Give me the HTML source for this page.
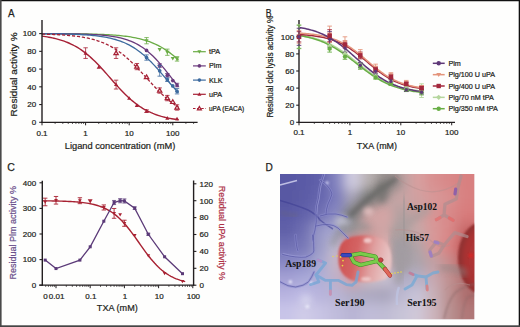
<!DOCTYPE html>
<html><head><meta charset="utf-8"><title>Figure</title>
<style>
html,body{margin:0;padding:0;background:#fff;width:520px;height:327px;overflow:hidden}
svg{display:block}
svg{font-family:"Liberation Sans",sans-serif}
</style></head><body>
<svg width="520" height="327" viewBox="0 0 520 327">
<rect x="0" y="0" width="520" height="327" fill="#fefefd"/>
<text x="7.9" y="16.9" font-size="11" text-anchor="start" fill="#231f20" stroke="#231f20" stroke-width="0.25" textLength="6.6" lengthAdjust="spacingAndGlyphs" >A</text>
<path d="M42 33.64 L43.71 33.65 L45.41 33.65 L47.12 33.66 L48.82 33.66 L50.53 33.67 L52.24 33.67 L53.94 33.68 L55.65 33.68 L57.35 33.69 L59.06 33.7 L60.77 33.71 L62.47 33.72 L64.18 33.73 L65.88 33.74 L67.59 33.75 L69.3 33.77 L71 33.78 L72.71 33.8 L74.41 33.81 L76.12 33.83 L77.83 33.85 L79.53 33.88 L81.24 33.9 L82.94 33.93 L84.65 33.96 L86.36 33.99 L88.06 34.02 L89.77 34.06 L91.47 34.1 L93.18 34.14 L94.89 34.19 L96.59 34.24 L98.3 34.3 L100.01 34.36 L101.71 34.43 L103.42 34.5 L105.12 34.58 L106.83 34.66 L108.54 34.75 L110.24 34.85 L111.95 34.96 L113.65 35.08 L115.36 35.21 L117.07 35.35 L118.77 35.5 L120.48 35.66 L122.18 35.84 L123.89 36.04 L125.6 36.24 L127.3 36.47 L129.01 36.72 L130.71 36.98 L132.42 37.27 L134.13 37.58 L135.83 37.91 L137.54 38.27 L139.24 38.66 L140.95 39.08 L142.66 39.53 L144.36 40.02 L146.07 40.54 L147.77 41.1 L149.48 41.71 L151.19 42.35 L152.89 43.04 L154.6 43.78 L156.3 44.57 L158.01 45.41 L159.72 46.3 L161.42 47.25 L163.13 48.26 L164.83 49.33 L166.54 50.45 L168.25 51.64 L169.95 52.89 L171.66 54.2 L173.36 55.57 L175.07 57 L176.78 58.48 L178.48 60.03" fill="none" stroke="#6aac45" stroke-width="1.3" />
<path d="M42 33.65 L43.71 33.65 L45.41 33.66 L47.12 33.66 L48.82 33.67 L50.53 33.68 L52.24 33.69 L53.94 33.7 L55.65 33.71 L57.35 33.72 L59.06 33.73 L60.77 33.74 L62.47 33.76 L64.18 33.77 L65.88 33.79 L67.59 33.81 L69.3 33.83 L71 33.86 L72.71 33.88 L74.41 33.91 L76.12 33.95 L77.83 33.98 L79.53 34.02 L81.24 34.07 L82.94 34.11 L84.65 34.17 L86.36 34.23 L88.06 34.29 L89.77 34.36 L91.47 34.44 L93.18 34.53 L94.89 34.62 L96.59 34.73 L98.3 34.84 L100.01 34.97 L101.71 35.11 L103.42 35.27 L105.12 35.44 L106.83 35.62 L108.54 35.83 L110.24 36.05 L111.95 36.3 L113.65 36.58 L115.36 36.87 L117.07 37.2 L118.77 37.56 L120.48 37.95 L122.18 38.38 L123.89 38.85 L125.6 39.36 L127.3 39.92 L129.01 40.52 L130.71 41.18 L132.42 41.9 L134.13 42.68 L135.83 43.52 L137.54 44.42 L139.24 45.4 L140.95 46.45 L142.66 47.58 L144.36 48.79 L146.07 50.08 L147.77 51.45 L149.48 52.9 L151.19 54.44 L152.89 56.06 L154.6 57.77 L156.3 59.55 L158.01 61.4 L159.72 63.33 L161.42 65.32 L163.13 67.36 L164.83 69.46 L166.54 71.6 L168.25 73.76 L169.95 75.95 L171.66 78.14 L173.36 80.34 L175.07 82.52 L176.78 84.69 L178.48 86.81" fill="none" stroke="#6a3a7c" stroke-width="1.3" />
<path d="M42 33.73 L43.71 33.74 L45.41 33.76 L47.12 33.77 L48.82 33.79 L50.53 33.81 L52.24 33.82 L53.94 33.85 L55.65 33.87 L57.35 33.89 L59.06 33.92 L60.77 33.95 L62.47 33.99 L64.18 34.02 L65.88 34.06 L67.59 34.1 L69.3 34.15 L71 34.2 L72.71 34.26 L74.41 34.32 L76.12 34.39 L77.83 34.46 L79.53 34.54 L81.24 34.63 L82.94 34.73 L84.65 34.83 L86.36 34.94 L88.06 35.07 L89.77 35.21 L91.47 35.35 L93.18 35.52 L94.89 35.69 L96.59 35.88 L98.3 36.09 L100.01 36.32 L101.71 36.57 L103.42 36.84 L105.12 37.13 L106.83 37.45 L108.54 37.8 L110.24 38.17 L111.95 38.58 L113.65 39.02 L115.36 39.5 L117.07 40.01 L118.77 40.57 L120.48 41.17 L122.18 41.82 L123.89 42.52 L125.6 43.27 L127.3 44.07 L129.01 44.93 L130.71 45.85 L132.42 46.83 L134.13 47.88 L135.83 48.99 L137.54 50.17 L139.24 51.42 L140.95 52.74 L142.66 54.13 L144.36 55.58 L146.07 57.1 L147.77 58.69 L149.48 60.35 L151.19 62.06 L152.89 63.83 L154.6 65.65 L156.3 67.51 L158.01 69.42 L159.72 71.36 L161.42 73.33 L163.13 75.31 L164.83 77.3 L166.54 79.3 L168.25 81.29 L169.95 83.27 L171.66 85.23 L173.36 87.16 L175.07 89.05 L176.78 90.9 L178.48 92.7" fill="none" stroke="#3c6a9e" stroke-width="1.3" />
<path d="M42 34.09 L43.71 34.13 L45.41 34.18 L47.12 34.23 L48.82 34.29 L50.53 34.35 L52.24 34.41 L53.94 34.49 L55.65 34.56 L57.35 34.65 L59.06 34.74 L60.77 34.84 L62.47 34.94 L64.18 35.06 L65.88 35.19 L67.59 35.33 L69.3 35.48 L71 35.64 L72.71 35.81 L74.41 36 L76.12 36.21 L77.83 36.43 L79.53 36.67 L81.24 36.94 L82.94 37.22 L84.65 37.52 L86.36 37.85 L88.06 38.21 L89.77 38.6 L91.47 39.01 L93.18 39.46 L94.89 39.94 L96.59 40.45 L98.3 41.01 L100.01 41.6 L101.71 42.24 L103.42 42.93 L105.12 43.66 L106.83 44.44 L108.54 45.27 L110.24 46.16 L111.95 47.1 L113.65 48.09 L115.36 49.15 L117.07 50.27 L118.77 51.44 L120.48 52.68 L122.18 53.98 L123.89 55.34 L125.6 56.76 L127.3 58.24 L129.01 59.77 L130.71 61.36 L132.42 63 L134.13 64.69 L135.83 66.42 L137.54 68.19 L139.24 69.99 L140.95 71.82 L142.66 73.68 L144.36 75.54 L146.07 77.42 L147.77 79.3 L149.48 81.17 L151.19 83.03 L152.89 84.87 L154.6 86.69 L156.3 88.48 L158.01 90.24 L159.72 91.95 L161.42 93.62 L163.13 95.23 L164.83 96.8 L166.54 98.31 L168.25 99.76 L169.95 101.16 L171.66 102.49 L173.36 103.76 L175.07 104.98 L176.78 106.13 L178.48 107.22" fill="none" stroke="#a62035" stroke-width="1.3" stroke-dasharray="3.2 1.8"/>
<path d="M42 36.17 L43.71 36.4 L45.41 36.65 L47.12 36.92 L48.82 37.21 L50.53 37.53 L52.24 37.88 L53.94 38.25 L55.65 38.65 L57.35 39.08 L59.06 39.55 L60.77 40.06 L62.47 40.61 L64.18 41.2 L65.88 41.83 L67.59 42.51 L69.3 43.24 L71 44.02 L72.71 44.85 L74.41 45.75 L76.12 46.7 L77.83 47.71 L79.53 48.78 L81.24 49.92 L82.94 51.12 L84.65 52.39 L86.36 53.72 L88.06 55.12 L89.77 56.59 L91.47 58.11 L93.18 59.7 L94.89 61.35 L96.59 63.05 L98.3 64.8 L100.01 66.6 L101.71 68.44 L103.42 70.32 L105.12 72.22 L106.83 74.15 L108.54 76.09 L110.24 78.03 L111.95 79.98 L113.65 81.92 L115.36 83.84 L117.07 85.74 L118.77 87.62 L120.48 89.45 L122.18 91.25 L123.89 93 L125.6 94.69 L127.3 96.34 L129.01 97.92 L130.71 99.44 L132.42 100.9 L134.13 102.29 L135.83 103.62 L137.54 104.88 L139.24 106.08 L140.95 107.21 L142.66 108.28 L144.36 109.29 L146.07 110.23 L147.77 111.12 L149.48 111.95 L151.19 112.73 L152.89 113.45 L154.6 114.13 L156.3 114.76 L158.01 115.34 L159.72 115.88 L161.42 116.39 L163.13 116.85 L164.83 117.29 L166.54 117.69 L168.25 118.06 L169.95 118.4 L171.66 118.71 L173.36 119 L175.07 119.27 L176.78 119.52 L178.48 119.74" fill="none" stroke="#a62035" stroke-width="1.4" />
<line x1="146.55" y1="37.59" x2="146.55" y2="43.8" stroke="#6aac45" stroke-width="0.8" />
<line x1="144.35" y1="37.59" x2="148.75" y2="37.59" stroke="#6aac45" stroke-width="0.8" />
<line x1="144.35" y1="43.8" x2="148.75" y2="43.8" stroke="#6aac45" stroke-width="0.8" />
<path d="M146.55 42.79L148.64 39.18L144.46 39.18Z" fill="#6aac45"/>
<path d="M159.68 51.66L161.77 48.05L157.59 48.05Z" fill="#6aac45"/>
<line x1="167.35" y1="49.12" x2="167.35" y2="55.33" stroke="#6aac45" stroke-width="0.8" />
<line x1="165.15" y1="49.12" x2="169.55" y2="49.12" stroke="#6aac45" stroke-width="0.8" />
<line x1="165.15" y1="55.33" x2="169.55" y2="55.33" stroke="#6aac45" stroke-width="0.8" />
<path d="M167.35 54.32L169.44 50.71L165.26 50.71Z" fill="#6aac45"/>
<path d="M172.8 60.53L174.89 56.92L170.71 56.92Z" fill="#6aac45"/>
<line x1="177.03" y1="56.66" x2="177.03" y2="61.1" stroke="#6aac45" stroke-width="0.8" />
<line x1="174.83" y1="56.66" x2="179.23" y2="56.66" stroke="#6aac45" stroke-width="0.8" />
<line x1="174.83" y1="61.1" x2="179.23" y2="61.1" stroke="#6aac45" stroke-width="0.8" />
<path d="M177.03 60.97L179.12 57.36L174.94 57.36Z" fill="#6aac45"/>
<circle cx="146.55" cy="50.45" r="1.85" fill="#6a3a7c"/>
<line x1="159.68" y1="63.76" x2="159.68" y2="67.31" stroke="#6a3a7c" stroke-width="0.8" />
<line x1="157.48" y1="63.76" x2="161.88" y2="63.76" stroke="#6a3a7c" stroke-width="0.8" />
<line x1="157.48" y1="67.31" x2="161.88" y2="67.31" stroke="#6a3a7c" stroke-width="0.8" />
<circle cx="159.68" cy="65.53" r="1.85" fill="#6a3a7c"/>
<line x1="167.35" y1="73.51" x2="167.35" y2="77.06" stroke="#6a3a7c" stroke-width="0.8" />
<line x1="165.15" y1="73.51" x2="169.55" y2="73.51" stroke="#6a3a7c" stroke-width="0.8" />
<line x1="165.15" y1="77.06" x2="169.55" y2="77.06" stroke="#6a3a7c" stroke-width="0.8" />
<circle cx="167.35" cy="75.29" r="1.85" fill="#6a3a7c"/>
<circle cx="172.8" cy="80.61" r="1.85" fill="#6a3a7c"/>
<line x1="177.03" y1="83.27" x2="177.03" y2="86.82" stroke="#6a3a7c" stroke-width="0.8" />
<line x1="174.83" y1="83.27" x2="179.23" y2="83.27" stroke="#6a3a7c" stroke-width="0.8" />
<line x1="174.83" y1="86.82" x2="179.23" y2="86.82" stroke="#6a3a7c" stroke-width="0.8" />
<circle cx="177.03" cy="85.05" r="1.85" fill="#6a3a7c"/>
<line x1="146.55" y1="54.89" x2="146.55" y2="60.21" stroke="#3c6a9e" stroke-width="0.8" />
<line x1="144.35" y1="54.89" x2="148.75" y2="54.89" stroke="#3c6a9e" stroke-width="0.8" />
<line x1="144.35" y1="60.21" x2="148.75" y2="60.21" stroke="#3c6a9e" stroke-width="0.8" />
<circle cx="146.55" cy="57.55" r="1.85" fill="#3c6a9e"/>
<line x1="159.68" y1="65.53" x2="159.68" y2="76.18" stroke="#3c6a9e" stroke-width="0.8" />
<line x1="157.48" y1="65.53" x2="161.88" y2="65.53" stroke="#3c6a9e" stroke-width="0.8" />
<line x1="157.48" y1="76.18" x2="161.88" y2="76.18" stroke="#3c6a9e" stroke-width="0.8" />
<circle cx="159.68" cy="70.85" r="1.85" fill="#3c6a9e"/>
<line x1="167.35" y1="77.95" x2="167.35" y2="81.5" stroke="#3c6a9e" stroke-width="0.8" />
<line x1="165.15" y1="77.95" x2="169.55" y2="77.95" stroke="#3c6a9e" stroke-width="0.8" />
<line x1="165.15" y1="81.5" x2="169.55" y2="81.5" stroke="#3c6a9e" stroke-width="0.8" />
<circle cx="167.35" cy="79.72" r="1.85" fill="#3c6a9e"/>
<circle cx="172.8" cy="85.93" r="1.85" fill="#3c6a9e"/>
<line x1="177.03" y1="88.59" x2="177.03" y2="93.92" stroke="#3c6a9e" stroke-width="0.8" />
<line x1="174.83" y1="88.59" x2="179.23" y2="88.59" stroke="#3c6a9e" stroke-width="0.8" />
<line x1="174.83" y1="93.92" x2="179.23" y2="93.92" stroke="#3c6a9e" stroke-width="0.8" />
<circle cx="177.03" cy="91.25" r="1.85" fill="#3c6a9e"/>
<line x1="85.6" y1="47.79" x2="85.6" y2="58.44" stroke="#a62035" stroke-width="0.8" />
<line x1="83.4" y1="47.79" x2="87.8" y2="47.79" stroke="#a62035" stroke-width="0.8" />
<line x1="83.4" y1="58.44" x2="87.8" y2="58.44" stroke="#a62035" stroke-width="0.8" />
<path d="M85.6 51.02L87.69 54.63L83.51 54.63Z" fill="#a62035"/>
<path d="M98.72 65.22L100.81 68.83L96.63 68.83Z" fill="#a62035"/>
<line x1="116.08" y1="80.17" x2="116.08" y2="89.04" stroke="#a62035" stroke-width="0.8" />
<line x1="113.88" y1="80.17" x2="118.28" y2="80.17" stroke="#a62035" stroke-width="0.8" />
<line x1="113.88" y1="89.04" x2="118.28" y2="89.04" stroke="#a62035" stroke-width="0.8" />
<path d="M116.08 82.51L118.17 86.12L113.99 86.12Z" fill="#a62035"/>
<path d="M129.2 96.26L131.29 99.87L127.11 99.87Z" fill="#a62035"/>
<path d="M136.88 103.36L138.97 106.97L134.79 106.97Z" fill="#a62035"/>
<line x1="146.55" y1="109.79" x2="146.55" y2="112.45" stroke="#a62035" stroke-width="0.8" />
<line x1="144.35" y1="109.79" x2="148.75" y2="109.79" stroke="#a62035" stroke-width="0.8" />
<line x1="144.35" y1="112.45" x2="148.75" y2="112.45" stroke="#a62035" stroke-width="0.8" />
<path d="M146.55 109.03L148.64 112.64L144.46 112.64Z" fill="#a62035"/>
<path d="M167.35 116.04L169.44 119.65L165.26 119.65Z" fill="#a62035"/>
<path d="M177.03 116.66L179.12 120.27L174.94 120.27Z" fill="#a62035"/>
<line x1="116.08" y1="47.79" x2="116.08" y2="58.44" stroke="#a62035" stroke-width="0.8" />
<line x1="113.88" y1="47.79" x2="118.28" y2="47.79" stroke="#a62035" stroke-width="0.8" />
<line x1="113.88" y1="58.44" x2="118.28" y2="58.44" stroke="#a62035" stroke-width="0.8" />
<path d="M116.08 50.91L118.28 54.71L113.88 54.71Z" fill="#f4dede" stroke="#a62035" stroke-width="1.2"/>
<line x1="136.88" y1="63.49" x2="136.88" y2="69.7" stroke="#a62035" stroke-width="0.8" />
<line x1="134.68" y1="63.49" x2="139.08" y2="63.49" stroke="#a62035" stroke-width="0.8" />
<line x1="134.68" y1="69.7" x2="139.08" y2="69.7" stroke="#a62035" stroke-width="0.8" />
<path d="M136.88 64.4L139.08 68.2L134.68 68.2Z" fill="#f4dede" stroke="#a62035" stroke-width="1.2"/>
<path d="M146.55 74.86L148.75 78.66L144.35 78.66Z" fill="#f4dede" stroke="#a62035" stroke-width="1.2"/>
<line x1="159.68" y1="87.88" x2="159.68" y2="93.21" stroke="#a62035" stroke-width="0.8" />
<line x1="157.48" y1="87.88" x2="161.88" y2="87.88" stroke="#a62035" stroke-width="0.8" />
<line x1="157.48" y1="93.21" x2="161.88" y2="93.21" stroke="#a62035" stroke-width="0.8" />
<path d="M159.68 88.35L161.88 92.15L157.48 92.15Z" fill="#f4dede" stroke="#a62035" stroke-width="1.2"/>
<line x1="167.35" y1="95.42" x2="167.35" y2="100.75" stroke="#a62035" stroke-width="0.8" />
<line x1="165.15" y1="95.42" x2="169.55" y2="95.42" stroke="#a62035" stroke-width="0.8" />
<line x1="165.15" y1="100.75" x2="169.55" y2="100.75" stroke="#a62035" stroke-width="0.8" />
<path d="M167.35 95.88L169.55 99.68L165.15 99.68Z" fill="#f4dede" stroke="#a62035" stroke-width="1.2"/>
<path d="M172.8 99.7L175 103.5L170.6 103.5Z" fill="#f4dede" stroke="#a62035" stroke-width="1.2"/>
<line x1="177.03" y1="104.83" x2="177.03" y2="110.15" stroke="#a62035" stroke-width="0.8" />
<line x1="174.83" y1="104.83" x2="179.23" y2="104.83" stroke="#a62035" stroke-width="0.8" />
<line x1="174.83" y1="110.15" x2="179.23" y2="110.15" stroke="#a62035" stroke-width="0.8" />
<path d="M177.03 105.29L179.23 109.09L174.83 109.09Z" fill="#f4dede" stroke="#a62035" stroke-width="1.2"/>
<line x1="42" y1="20" x2="42" y2="122.9" stroke="#231f20" stroke-width="1.4" />
<line x1="41.3" y1="122.3" x2="197.6" y2="122.3" stroke="#231f20" stroke-width="1.3" />
<line x1="39.2" y1="122.3" x2="42" y2="122.3" stroke="#231f20" stroke-width="1.1" />
<text x="36.2" y="125.15" font-size="8" text-anchor="end" fill="#231f20" stroke="#231f20" stroke-width="0.22" >0</text>
<line x1="39.2" y1="104.56" x2="42" y2="104.56" stroke="#231f20" stroke-width="1.1" />
<text x="36.2" y="107.41" font-size="8" text-anchor="end" fill="#231f20" stroke="#231f20" stroke-width="0.22" >20</text>
<line x1="39.2" y1="86.82" x2="42" y2="86.82" stroke="#231f20" stroke-width="1.1" />
<text x="36.2" y="89.67" font-size="8" text-anchor="end" fill="#231f20" stroke="#231f20" stroke-width="0.22" >40</text>
<line x1="39.2" y1="69.08" x2="42" y2="69.08" stroke="#231f20" stroke-width="1.1" />
<text x="36.2" y="71.93" font-size="8" text-anchor="end" fill="#231f20" stroke="#231f20" stroke-width="0.22" >60</text>
<line x1="39.2" y1="51.34" x2="42" y2="51.34" stroke="#231f20" stroke-width="1.1" />
<text x="36.2" y="54.19" font-size="8" text-anchor="end" fill="#231f20" stroke="#231f20" stroke-width="0.22" >80</text>
<line x1="39.2" y1="33.6" x2="42" y2="33.6" stroke="#231f20" stroke-width="1.1" />
<text x="36.2" y="36.45" font-size="8" text-anchor="end" fill="#231f20" stroke="#231f20" stroke-width="0.22" >100</text>
<line x1="42" y1="122.3" x2="42" y2="125.3" stroke="#231f20" stroke-width="1.0" />
<line x1="55.12" y1="122.3" x2="55.12" y2="123.9" stroke="#231f20" stroke-width="0.8" />
<line x1="62.8" y1="122.3" x2="62.8" y2="123.9" stroke="#231f20" stroke-width="0.8" />
<line x1="68.25" y1="122.3" x2="68.25" y2="123.9" stroke="#231f20" stroke-width="0.8" />
<line x1="72.48" y1="122.3" x2="72.48" y2="123.9" stroke="#231f20" stroke-width="0.8" />
<line x1="75.93" y1="122.3" x2="75.93" y2="123.9" stroke="#231f20" stroke-width="0.8" />
<line x1="78.85" y1="122.3" x2="78.85" y2="123.9" stroke="#231f20" stroke-width="0.8" />
<line x1="81.37" y1="122.3" x2="81.37" y2="123.9" stroke="#231f20" stroke-width="0.8" />
<line x1="83.6" y1="122.3" x2="83.6" y2="123.9" stroke="#231f20" stroke-width="0.8" />
<line x1="85.6" y1="122.3" x2="85.6" y2="125.3" stroke="#231f20" stroke-width="1.0" />
<line x1="98.72" y1="122.3" x2="98.72" y2="123.9" stroke="#231f20" stroke-width="0.8" />
<line x1="106.4" y1="122.3" x2="106.4" y2="123.9" stroke="#231f20" stroke-width="0.8" />
<line x1="111.85" y1="122.3" x2="111.85" y2="123.9" stroke="#231f20" stroke-width="0.8" />
<line x1="116.08" y1="122.3" x2="116.08" y2="123.9" stroke="#231f20" stroke-width="0.8" />
<line x1="119.53" y1="122.3" x2="119.53" y2="123.9" stroke="#231f20" stroke-width="0.8" />
<line x1="122.45" y1="122.3" x2="122.45" y2="123.9" stroke="#231f20" stroke-width="0.8" />
<line x1="124.97" y1="122.3" x2="124.97" y2="123.9" stroke="#231f20" stroke-width="0.8" />
<line x1="127.2" y1="122.3" x2="127.2" y2="123.9" stroke="#231f20" stroke-width="0.8" />
<line x1="129.2" y1="122.3" x2="129.2" y2="125.3" stroke="#231f20" stroke-width="1.0" />
<line x1="142.32" y1="122.3" x2="142.32" y2="123.9" stroke="#231f20" stroke-width="0.8" />
<line x1="150" y1="122.3" x2="150" y2="123.9" stroke="#231f20" stroke-width="0.8" />
<line x1="155.45" y1="122.3" x2="155.45" y2="123.9" stroke="#231f20" stroke-width="0.8" />
<line x1="159.68" y1="122.3" x2="159.68" y2="123.9" stroke="#231f20" stroke-width="0.8" />
<line x1="163.13" y1="122.3" x2="163.13" y2="123.9" stroke="#231f20" stroke-width="0.8" />
<line x1="166.05" y1="122.3" x2="166.05" y2="123.9" stroke="#231f20" stroke-width="0.8" />
<line x1="168.57" y1="122.3" x2="168.57" y2="123.9" stroke="#231f20" stroke-width="0.8" />
<line x1="170.8" y1="122.3" x2="170.8" y2="123.9" stroke="#231f20" stroke-width="0.8" />
<line x1="172.8" y1="122.3" x2="172.8" y2="125.3" stroke="#231f20" stroke-width="1.0" />
<line x1="185.92" y1="122.3" x2="185.92" y2="123.9" stroke="#231f20" stroke-width="0.8" />
<line x1="193.6" y1="122.3" x2="193.6" y2="123.9" stroke="#231f20" stroke-width="0.8" />
<text x="42" y="135.6" font-size="8" text-anchor="middle" fill="#231f20" stroke="#231f20" stroke-width="0.22" >0.1</text>
<text x="85.6" y="135.6" font-size="8" text-anchor="middle" fill="#231f20" stroke="#231f20" stroke-width="0.22" >1</text>
<text x="129.2" y="135.6" font-size="8" text-anchor="middle" fill="#231f20" stroke="#231f20" stroke-width="0.22" >10</text>
<text x="172.8" y="135.6" font-size="8" text-anchor="middle" fill="#231f20" stroke="#231f20" stroke-width="0.22" >100</text>
<text x="120" y="149.3" font-size="9.8" text-anchor="middle" fill="#231f20" stroke="#231f20" stroke-width="0.22" textLength="110.5" lengthAdjust="spacingAndGlyphs" >Ligand concentration (mM)</text>
<text transform="translate(16.5,74.4) rotate(-90)" x="0" y="0" font-size="9.8" text-anchor="middle" fill="#231f20" textLength="84" lengthAdjust="spacingAndGlyphs" stroke="#231f20" stroke-width="0.22">Residual activity %</text>
<line x1="193" y1="51.7" x2="205.8" y2="51.7" stroke="#6aac45" stroke-width="1.2" />
<path d="M199.4 53.68L201.38 50.26L197.42 50.26Z" fill="#6aac45"/>
<text x="209" y="54.2" font-size="7.2" text-anchor="start" fill="#231f20" stroke="#231f20" stroke-width="0.22" >tPA</text>
<line x1="193" y1="65.9" x2="205.8" y2="65.9" stroke="#6a3a7c" stroke-width="1.2" />
<circle cx="199.4" cy="65.9" r="1.8" fill="#6a3a7c"/>
<text x="209" y="68.4" font-size="7.2" text-anchor="start" fill="#231f20" stroke="#231f20" stroke-width="0.22" >Plm</text>
<line x1="193" y1="80.1" x2="205.8" y2="80.1" stroke="#3c6a9e" stroke-width="1.2" />
<circle cx="199.4" cy="80.1" r="1.8" fill="#3c6a9e"/>
<text x="209" y="82.6" font-size="7.2" text-anchor="start" fill="#231f20" stroke="#231f20" stroke-width="0.22" >KLK</text>
<line x1="193" y1="94.3" x2="205.8" y2="94.3" stroke="#a62035" stroke-width="1.2" />
<path d="M199.4 92.32L201.38 95.74L197.42 95.74Z" fill="#a62035"/>
<text x="209" y="96.8" font-size="7.2" text-anchor="start" fill="#231f20" stroke="#231f20" stroke-width="0.22" >uPA</text>
<line x1="193" y1="108.5" x2="205.8" y2="108.5" stroke="#a62035" stroke-width="1.2" stroke-dasharray="2.5 1.6"/>
<path d="M199.4 106.52L201.38 109.94L197.42 109.94Z" fill="#f4dede" stroke="#a62035" stroke-width="1.2"/>
<text x="209" y="111" font-size="7.2" text-anchor="start" fill="#231f20" stroke="#231f20" stroke-width="0.22" textLength="35.2" lengthAdjust="spacingAndGlyphs" >uPA (EACA)</text>
<text x="265.7" y="17" font-size="11" text-anchor="start" fill="#231f20" stroke="#231f20" stroke-width="0.25" textLength="5.8" lengthAdjust="spacingAndGlyphs" >B</text>
<line x1="299" y1="20" x2="299" y2="122.9" stroke="#231f20" stroke-width="1.4" />
<line x1="298.3" y1="122.3" x2="455" y2="122.3" stroke="#231f20" stroke-width="1.3" />
<line x1="296.2" y1="122.3" x2="299" y2="122.3" stroke="#231f20" stroke-width="1.1" />
<line x1="296.2" y1="105.2" x2="299" y2="105.2" stroke="#231f20" stroke-width="1.1" />
<line x1="296.2" y1="88.1" x2="299" y2="88.1" stroke="#231f20" stroke-width="1.1" />
<line x1="296.2" y1="71" x2="299" y2="71" stroke="#231f20" stroke-width="1.1" />
<line x1="296.2" y1="53.9" x2="299" y2="53.9" stroke="#231f20" stroke-width="1.1" />
<line x1="296.2" y1="36.8" x2="299" y2="36.8" stroke="#231f20" stroke-width="1.1" />
<path d="M299 35.18 L300.55 35.4 L302.1 35.63 L303.66 35.88 L305.21 36.15 L306.76 36.43 L308.31 36.74 L309.86 37.08 L311.42 37.43 L312.97 37.81 L314.52 38.22 L316.07 38.66 L317.62 39.12 L319.18 39.62 L320.73 40.15 L322.28 40.71 L323.83 41.31 L325.38 41.94 L326.94 42.61 L328.49 43.32 L330.04 44.06 L331.59 44.85 L333.14 45.67 L334.7 46.53 L336.25 47.44 L337.8 48.38 L339.35 49.35 L340.9 50.37 L342.46 51.41 L344.01 52.5 L345.56 53.61 L347.11 54.75 L348.66 55.91 L350.22 57.1 L351.77 58.3 L353.32 59.52 L354.87 60.75 L356.42 61.99 L357.98 63.23 L359.53 64.47 L361.08 65.7 L362.63 66.93 L364.19 68.14 L365.74 69.33 L367.29 70.5 L368.84 71.65 L370.39 72.77 L371.95 73.86 L373.5 74.92 L375.05 75.94 L376.6 76.93 L378.15 77.88 L379.71 78.79 L381.26 79.67 L382.81 80.5 L384.36 81.3 L385.91 82.06 L387.47 82.77 L389.02 83.46 L390.57 84.1 L392.12 84.71 L393.67 85.28 L395.23 85.82 L396.78 86.32 L398.33 86.8 L399.88 87.24 L401.43 87.66 L402.99 88.05 L404.54 88.41 L406.09 88.75 L407.64 89.07 L409.19 89.36 L410.75 89.64 L412.3 89.89 L413.85 90.13 L415.4 90.35 L416.95 90.55 L418.51 90.74 L420.06 90.92 L421.61 91.08 L423.16 91.23" fill="none" stroke="#b5d69d" stroke-width="1.5" />
<path d="M299 35.53 L300.55 35.79 L302.1 36.06 L303.66 36.35 L305.21 36.66 L306.76 36.99 L308.31 37.35 L309.86 37.73 L311.42 38.13 L312.97 38.57 L314.52 39.02 L316.07 39.51 L317.62 40.03 L319.18 40.58 L320.73 41.16 L322.28 41.77 L323.83 42.42 L325.38 43.1 L326.94 43.81 L328.49 44.57 L330.04 45.36 L331.59 46.18 L333.14 47.04 L334.7 47.94 L336.25 48.87 L337.8 49.84 L339.35 50.84 L340.9 51.88 L342.46 52.94 L344.01 54.03 L345.56 55.15 L347.11 56.29 L348.66 57.45 L350.22 58.63 L351.77 59.82 L353.32 61.02 L354.87 62.23 L356.42 63.45 L357.98 64.66 L359.53 65.87 L361.08 67.08 L362.63 68.27 L364.19 69.45 L365.74 70.61 L367.29 71.75 L368.84 72.87 L370.39 73.96 L371.95 75.02 L373.5 76.06 L375.05 77.06 L376.6 78.03 L378.15 78.96 L379.71 79.86 L381.26 80.72 L382.81 81.55 L384.36 82.34 L385.91 83.1 L387.47 83.81 L389.02 84.5 L390.57 85.14 L392.12 85.76 L393.67 86.34 L395.23 86.89 L396.78 87.41 L398.33 87.9 L399.88 88.35 L401.43 88.79 L402.99 89.19 L404.54 89.57 L406.09 89.93 L407.64 90.26 L409.19 90.57 L410.75 90.87 L412.3 91.14 L413.85 91.39 L415.4 91.63 L416.95 91.85 L418.51 92.06 L420.06 92.25 L421.61 92.43 L423.16 92.6" fill="none" stroke="#68ae45" stroke-width="1.5" />
<path d="M299 34.57 L300.55 34.66 L302.1 34.76 L303.66 34.87 L305.21 34.99 L306.76 35.12 L308.31 35.26 L309.86 35.42 L311.42 35.59 L312.97 35.77 L314.52 35.97 L316.07 36.19 L317.62 36.42 L319.18 36.68 L320.73 36.96 L322.28 37.27 L323.83 37.59 L325.38 37.95 L326.94 38.33 L328.49 38.75 L330.04 39.2 L331.59 39.68 L333.14 40.2 L334.7 40.76 L336.25 41.35 L337.8 41.99 L339.35 42.67 L340.9 43.4 L342.46 44.17 L344.01 44.98 L345.56 45.84 L347.11 46.75 L348.66 47.71 L350.22 48.71 L351.77 49.76 L353.32 50.84 L354.87 51.97 L356.42 53.14 L357.98 54.34 L359.53 55.57 L361.08 56.82 L362.63 58.1 L364.19 59.4 L365.74 60.71 L367.29 62.02 L368.84 63.33 L370.39 64.64 L371.95 65.94 L373.5 67.22 L375.05 68.48 L376.6 69.72 L378.15 70.92 L379.71 72.1 L381.26 73.23 L382.81 74.33 L384.36 75.38 L385.91 76.39 L387.47 77.35 L389.02 78.27 L390.57 79.14 L392.12 79.97 L393.67 80.74 L395.23 81.48 L396.78 82.17 L398.33 82.81 L399.88 83.41 L401.43 83.98 L402.99 84.5 L404.54 84.99 L406.09 85.45 L407.64 85.87 L409.19 86.26 L410.75 86.62 L412.3 86.95 L413.85 87.26 L415.4 87.54 L416.95 87.81 L418.51 88.05 L420.06 88.27 L421.61 88.47 L423.16 88.66" fill="none" stroke="#a3283d" stroke-width="1.5" />
<path d="M299 33.11 L300.55 33.2 L302.1 33.31 L303.66 33.42 L305.21 33.54 L306.76 33.67 L308.31 33.82 L309.86 33.98 L311.42 34.15 L312.97 34.34 L314.52 34.54 L316.07 34.77 L317.62 35.01 L319.18 35.27 L320.73 35.56 L322.28 35.87 L323.83 36.2 L325.38 36.56 L326.94 36.95 L328.49 37.38 L330.04 37.83 L331.59 38.32 L333.14 38.84 L334.7 39.41 L336.25 40.01 L337.8 40.66 L339.35 41.34 L340.9 42.08 L342.46 42.85 L344.01 43.68 L345.56 44.54 L347.11 45.46 L348.66 46.42 L350.22 47.43 L351.77 48.48 L353.32 49.58 L354.87 50.71 L356.42 51.88 L357.98 53.09 L359.53 54.33 L361.08 55.59 L362.63 56.88 L364.19 58.18 L365.74 59.49 L367.29 60.81 L368.84 62.14 L370.39 63.45 L371.95 64.76 L373.5 66.05 L375.05 67.32 L376.6 68.57 L378.15 69.79 L379.71 70.97 L381.26 72.12 L382.81 73.23 L384.36 74.29 L385.91 75.31 L387.47 76.29 L389.02 77.22 L390.57 78.11 L392.12 78.95 L393.67 79.74 L395.23 80.49 L396.78 81.19 L398.33 81.85 L399.88 82.46 L401.43 83.04 L402.99 83.58 L404.54 84.08 L406.09 84.55 L407.64 84.98 L409.19 85.38 L410.75 85.75 L412.3 86.09 L413.85 86.41 L415.4 86.7 L416.95 86.97 L418.51 87.22 L420.06 87.45 L421.61 87.66 L423.16 87.86" fill="none" stroke="#e4957c" stroke-width="1.5" />
<path d="M299 27.36 L300.55 27.63 L302.1 27.91 L303.66 28.22 L305.21 28.55 L306.76 28.9 L308.31 29.27 L309.86 29.68 L311.42 30.11 L312.97 30.57 L314.52 31.06 L316.07 31.58 L317.62 32.14 L319.18 32.73 L320.73 33.36 L322.28 34.02 L323.83 34.73 L325.38 35.47 L326.94 36.26 L328.49 37.08 L330.04 37.95 L331.59 38.86 L333.14 39.82 L334.7 40.81 L336.25 41.85 L337.8 42.93 L339.35 44.05 L340.9 45.21 L342.46 46.4 L344.01 47.63 L345.56 48.9 L347.11 50.19 L348.66 51.5 L350.22 52.84 L351.77 54.2 L353.32 55.58 L354.87 56.96 L356.42 58.35 L357.98 59.74 L359.53 61.13 L361.08 62.52 L362.63 63.89 L364.19 65.25 L365.74 66.59 L367.29 67.9 L368.84 69.19 L370.39 70.45 L371.95 71.68 L373.5 72.87 L375.05 74.03 L376.6 75.15 L378.15 76.22 L379.71 77.26 L381.26 78.25 L382.81 79.2 L384.36 80.11 L385.91 80.98 L387.47 81.8 L389.02 82.58 L390.57 83.32 L392.12 84.02 L393.67 84.69 L395.23 85.31 L396.78 85.9 L398.33 86.46 L399.88 86.98 L401.43 87.46 L402.99 87.92 L404.54 88.35 L406.09 88.75 L407.64 89.13 L409.19 89.48 L410.75 89.8 L412.3 90.11 L413.85 90.39 L415.4 90.66 L416.95 90.9 L418.51 91.13 L420.06 91.35 L421.61 91.54 L423.16 91.73" fill="none" stroke="#5e3878" stroke-width="1.5" />
<line x1="299" y1="24.83" x2="299" y2="48.77" stroke="#b5d69d" stroke-width="0.9" />
<line x1="296.7" y1="24.83" x2="301.3" y2="24.83" stroke="#b5d69d" stroke-width="0.9" />
<line x1="296.7" y1="48.77" x2="301.3" y2="48.77" stroke="#b5d69d" stroke-width="0.9" />
<line x1="329.64" y1="42.78" x2="329.64" y2="49.62" stroke="#b5d69d" stroke-width="0.9" />
<line x1="327.34" y1="42.78" x2="331.94" y2="42.78" stroke="#b5d69d" stroke-width="0.9" />
<line x1="327.34" y1="49.62" x2="331.94" y2="49.62" stroke="#b5d69d" stroke-width="0.9" />
<line x1="344.97" y1="51.33" x2="344.97" y2="56.47" stroke="#b5d69d" stroke-width="0.9" />
<line x1="342.67" y1="51.33" x2="347.27" y2="51.33" stroke="#b5d69d" stroke-width="0.9" />
<line x1="342.67" y1="56.47" x2="347.27" y2="56.47" stroke="#b5d69d" stroke-width="0.9" />
<line x1="360.29" y1="62.45" x2="360.29" y2="67.58" stroke="#b5d69d" stroke-width="0.9" />
<line x1="357.99" y1="62.45" x2="362.59" y2="62.45" stroke="#b5d69d" stroke-width="0.9" />
<line x1="357.99" y1="67.58" x2="362.59" y2="67.58" stroke="#b5d69d" stroke-width="0.9" />
<line x1="375.61" y1="73.56" x2="375.61" y2="78.69" stroke="#b5d69d" stroke-width="0.9" />
<line x1="373.31" y1="73.56" x2="377.91" y2="73.56" stroke="#b5d69d" stroke-width="0.9" />
<line x1="373.31" y1="78.69" x2="377.91" y2="78.69" stroke="#b5d69d" stroke-width="0.9" />
<line x1="390.93" y1="80.41" x2="390.93" y2="85.53" stroke="#b5d69d" stroke-width="0.9" />
<line x1="388.63" y1="80.41" x2="393.23" y2="80.41" stroke="#b5d69d" stroke-width="0.9" />
<line x1="388.63" y1="85.53" x2="393.23" y2="85.53" stroke="#b5d69d" stroke-width="0.9" />
<line x1="406.26" y1="86.39" x2="406.26" y2="91.52" stroke="#b5d69d" stroke-width="0.9" />
<line x1="403.96" y1="86.39" x2="408.56" y2="86.39" stroke="#b5d69d" stroke-width="0.9" />
<line x1="403.96" y1="91.52" x2="408.56" y2="91.52" stroke="#b5d69d" stroke-width="0.9" />
<line x1="421.58" y1="83.82" x2="421.58" y2="97.5" stroke="#b5d69d" stroke-width="0.9" />
<line x1="419.28" y1="83.82" x2="423.88" y2="83.82" stroke="#b5d69d" stroke-width="0.9" />
<line x1="419.28" y1="97.5" x2="423.88" y2="97.5" stroke="#b5d69d" stroke-width="0.9" />
<line x1="299" y1="25.26" x2="299" y2="48.34" stroke="#68ae45" stroke-width="0.9" />
<line x1="296.7" y1="25.26" x2="301.3" y2="25.26" stroke="#68ae45" stroke-width="0.9" />
<line x1="296.7" y1="48.34" x2="301.3" y2="48.34" stroke="#68ae45" stroke-width="0.9" />
<line x1="329.64" y1="45.26" x2="329.64" y2="52.1" stroke="#68ae45" stroke-width="0.9" />
<line x1="327.34" y1="45.26" x2="331.94" y2="45.26" stroke="#68ae45" stroke-width="0.9" />
<line x1="327.34" y1="52.1" x2="331.94" y2="52.1" stroke="#68ae45" stroke-width="0.9" />
<line x1="344.97" y1="54.16" x2="344.97" y2="59.29" stroke="#68ae45" stroke-width="0.9" />
<line x1="342.67" y1="54.16" x2="347.27" y2="54.16" stroke="#68ae45" stroke-width="0.9" />
<line x1="342.67" y1="59.29" x2="347.27" y2="59.29" stroke="#68ae45" stroke-width="0.9" />
<line x1="360.29" y1="64.16" x2="360.29" y2="69.29" stroke="#68ae45" stroke-width="0.9" />
<line x1="357.99" y1="64.16" x2="362.59" y2="64.16" stroke="#68ae45" stroke-width="0.9" />
<line x1="357.99" y1="69.29" x2="362.59" y2="69.29" stroke="#68ae45" stroke-width="0.9" />
<line x1="375.61" y1="75.7" x2="375.61" y2="79.12" stroke="#68ae45" stroke-width="0.9" />
<line x1="373.31" y1="75.7" x2="377.91" y2="75.7" stroke="#68ae45" stroke-width="0.9" />
<line x1="373.31" y1="79.12" x2="377.91" y2="79.12" stroke="#68ae45" stroke-width="0.9" />
<line x1="390.93" y1="82.11" x2="390.93" y2="85.53" stroke="#68ae45" stroke-width="0.9" />
<line x1="388.63" y1="82.11" x2="393.23" y2="82.11" stroke="#68ae45" stroke-width="0.9" />
<line x1="388.63" y1="85.53" x2="393.23" y2="85.53" stroke="#68ae45" stroke-width="0.9" />
<line x1="406.26" y1="88.1" x2="406.26" y2="91.52" stroke="#68ae45" stroke-width="0.9" />
<line x1="403.96" y1="88.1" x2="408.56" y2="88.1" stroke="#68ae45" stroke-width="0.9" />
<line x1="403.96" y1="91.52" x2="408.56" y2="91.52" stroke="#68ae45" stroke-width="0.9" />
<line x1="421.58" y1="89.81" x2="421.58" y2="94.94" stroke="#68ae45" stroke-width="0.9" />
<line x1="419.28" y1="89.81" x2="423.88" y2="89.81" stroke="#68ae45" stroke-width="0.9" />
<line x1="419.28" y1="94.94" x2="423.88" y2="94.94" stroke="#68ae45" stroke-width="0.9" />
<line x1="299" y1="30.39" x2="299" y2="43.21" stroke="#e4957c" stroke-width="0.9" />
<line x1="296.7" y1="30.39" x2="301.3" y2="30.39" stroke="#e4957c" stroke-width="0.9" />
<line x1="296.7" y1="43.21" x2="301.3" y2="43.21" stroke="#e4957c" stroke-width="0.9" />
<line x1="329.64" y1="26.11" x2="329.64" y2="42.36" stroke="#e4957c" stroke-width="0.9" />
<line x1="327.34" y1="26.11" x2="331.94" y2="26.11" stroke="#e4957c" stroke-width="0.9" />
<line x1="327.34" y1="42.36" x2="331.94" y2="42.36" stroke="#e4957c" stroke-width="0.9" />
<line x1="344.97" y1="36.8" x2="344.97" y2="47.06" stroke="#e4957c" stroke-width="0.9" />
<line x1="342.67" y1="36.8" x2="347.27" y2="36.8" stroke="#e4957c" stroke-width="0.9" />
<line x1="342.67" y1="47.06" x2="347.27" y2="47.06" stroke="#e4957c" stroke-width="0.9" />
<line x1="360.29" y1="49.62" x2="360.29" y2="58.17" stroke="#e4957c" stroke-width="0.9" />
<line x1="357.99" y1="49.62" x2="362.59" y2="49.62" stroke="#e4957c" stroke-width="0.9" />
<line x1="357.99" y1="58.17" x2="362.59" y2="58.17" stroke="#e4957c" stroke-width="0.9" />
<line x1="375.61" y1="64.16" x2="375.61" y2="71" stroke="#e4957c" stroke-width="0.9" />
<line x1="373.31" y1="64.16" x2="377.91" y2="64.16" stroke="#e4957c" stroke-width="0.9" />
<line x1="373.31" y1="71" x2="377.91" y2="71" stroke="#e4957c" stroke-width="0.9" />
<line x1="390.93" y1="72.71" x2="390.93" y2="77.84" stroke="#e4957c" stroke-width="0.9" />
<line x1="388.63" y1="72.71" x2="393.23" y2="72.71" stroke="#e4957c" stroke-width="0.9" />
<line x1="388.63" y1="77.84" x2="393.23" y2="77.84" stroke="#e4957c" stroke-width="0.9" />
<line x1="406.26" y1="80.41" x2="406.26" y2="85.53" stroke="#e4957c" stroke-width="0.9" />
<line x1="403.96" y1="80.41" x2="408.56" y2="80.41" stroke="#e4957c" stroke-width="0.9" />
<line x1="403.96" y1="85.53" x2="408.56" y2="85.53" stroke="#e4957c" stroke-width="0.9" />
<line x1="421.58" y1="85.53" x2="421.58" y2="88.95" stroke="#e4957c" stroke-width="0.9" />
<line x1="419.28" y1="85.53" x2="423.88" y2="85.53" stroke="#e4957c" stroke-width="0.9" />
<line x1="419.28" y1="88.95" x2="423.88" y2="88.95" stroke="#e4957c" stroke-width="0.9" />
<line x1="299" y1="31.67" x2="299" y2="41.93" stroke="#a3283d" stroke-width="0.9" />
<line x1="296.7" y1="31.67" x2="301.3" y2="31.67" stroke="#a3283d" stroke-width="0.9" />
<line x1="296.7" y1="41.93" x2="301.3" y2="41.93" stroke="#a3283d" stroke-width="0.9" />
<line x1="329.64" y1="29.7" x2="329.64" y2="41.67" stroke="#a3283d" stroke-width="0.9" />
<line x1="327.34" y1="29.7" x2="331.94" y2="29.7" stroke="#a3283d" stroke-width="0.9" />
<line x1="327.34" y1="41.67" x2="331.94" y2="41.67" stroke="#a3283d" stroke-width="0.9" />
<line x1="344.97" y1="41.08" x2="344.97" y2="47.91" stroke="#a3283d" stroke-width="0.9" />
<line x1="342.67" y1="41.08" x2="347.27" y2="41.08" stroke="#a3283d" stroke-width="0.9" />
<line x1="342.67" y1="47.91" x2="347.27" y2="47.91" stroke="#a3283d" stroke-width="0.9" />
<line x1="360.29" y1="52.02" x2="360.29" y2="58.86" stroke="#a3283d" stroke-width="0.9" />
<line x1="357.99" y1="52.02" x2="362.59" y2="52.02" stroke="#a3283d" stroke-width="0.9" />
<line x1="357.99" y1="58.86" x2="362.59" y2="58.86" stroke="#a3283d" stroke-width="0.9" />
<line x1="375.61" y1="66.9" x2="375.61" y2="72.03" stroke="#a3283d" stroke-width="0.9" />
<line x1="373.31" y1="66.9" x2="377.91" y2="66.9" stroke="#a3283d" stroke-width="0.9" />
<line x1="373.31" y1="72.03" x2="377.91" y2="72.03" stroke="#a3283d" stroke-width="0.9" />
<line x1="390.93" y1="74.25" x2="390.93" y2="79.38" stroke="#a3283d" stroke-width="0.9" />
<line x1="388.63" y1="74.25" x2="393.23" y2="74.25" stroke="#a3283d" stroke-width="0.9" />
<line x1="388.63" y1="79.38" x2="393.23" y2="79.38" stroke="#a3283d" stroke-width="0.9" />
<line x1="406.26" y1="82.2" x2="406.26" y2="85.62" stroke="#a3283d" stroke-width="0.9" />
<line x1="403.96" y1="82.2" x2="408.56" y2="82.2" stroke="#a3283d" stroke-width="0.9" />
<line x1="403.96" y1="85.62" x2="408.56" y2="85.62" stroke="#a3283d" stroke-width="0.9" />
<line x1="421.58" y1="86.48" x2="421.58" y2="89.9" stroke="#a3283d" stroke-width="0.9" />
<line x1="419.28" y1="86.48" x2="423.88" y2="86.48" stroke="#a3283d" stroke-width="0.9" />
<line x1="419.28" y1="89.9" x2="423.88" y2="89.9" stroke="#a3283d" stroke-width="0.9" />
<line x1="299" y1="28.25" x2="299" y2="45.35" stroke="#5e3878" stroke-width="0.9" />
<line x1="296.7" y1="28.25" x2="301.3" y2="28.25" stroke="#5e3878" stroke-width="0.9" />
<line x1="296.7" y1="45.35" x2="301.3" y2="45.35" stroke="#5e3878" stroke-width="0.9" />
<line x1="329.64" y1="31.67" x2="329.64" y2="47.06" stroke="#5e3878" stroke-width="0.9" />
<line x1="327.34" y1="31.67" x2="331.94" y2="31.67" stroke="#5e3878" stroke-width="0.9" />
<line x1="327.34" y1="47.06" x2="331.94" y2="47.06" stroke="#5e3878" stroke-width="0.9" />
<line x1="344.97" y1="43.81" x2="344.97" y2="52.36" stroke="#5e3878" stroke-width="0.9" />
<line x1="342.67" y1="43.81" x2="347.27" y2="43.81" stroke="#5e3878" stroke-width="0.9" />
<line x1="342.67" y1="52.36" x2="347.27" y2="52.36" stroke="#5e3878" stroke-width="0.9" />
<line x1="360.29" y1="62.62" x2="360.29" y2="67.75" stroke="#5e3878" stroke-width="0.9" />
<line x1="357.99" y1="62.62" x2="362.59" y2="62.62" stroke="#5e3878" stroke-width="0.9" />
<line x1="357.99" y1="67.75" x2="362.59" y2="67.75" stroke="#5e3878" stroke-width="0.9" />
<line x1="375.61" y1="68.78" x2="375.61" y2="73.91" stroke="#5e3878" stroke-width="0.9" />
<line x1="373.31" y1="68.78" x2="377.91" y2="68.78" stroke="#5e3878" stroke-width="0.9" />
<line x1="373.31" y1="73.91" x2="377.91" y2="73.91" stroke="#5e3878" stroke-width="0.9" />
<line x1="390.93" y1="78.87" x2="390.93" y2="84" stroke="#5e3878" stroke-width="0.9" />
<line x1="388.63" y1="78.87" x2="393.23" y2="78.87" stroke="#5e3878" stroke-width="0.9" />
<line x1="388.63" y1="84" x2="393.23" y2="84" stroke="#5e3878" stroke-width="0.9" />
<line x1="406.26" y1="88.1" x2="406.26" y2="91.52" stroke="#5e3878" stroke-width="0.9" />
<line x1="403.96" y1="88.1" x2="408.56" y2="88.1" stroke="#5e3878" stroke-width="0.9" />
<line x1="403.96" y1="91.52" x2="408.56" y2="91.52" stroke="#5e3878" stroke-width="0.9" />
<line x1="421.58" y1="90.49" x2="421.58" y2="93.91" stroke="#5e3878" stroke-width="0.9" />
<line x1="419.28" y1="90.49" x2="423.88" y2="90.49" stroke="#5e3878" stroke-width="0.9" />
<line x1="419.28" y1="93.91" x2="423.88" y2="93.91" stroke="#5e3878" stroke-width="0.9" />
<path d="M299 34.22L301.58 36.8L299 39.38L296.42 36.8Z" fill="#b5d69d"/>
<path d="M329.64 43.62L332.22 46.2L329.64 48.78L327.06 46.2Z" fill="#b5d69d"/>
<path d="M344.97 51.32L347.55 53.9L344.97 56.48L342.39 53.9Z" fill="#b5d69d"/>
<path d="M360.29 62.44L362.87 65.02L360.29 67.59L357.71 65.02Z" fill="#b5d69d"/>
<path d="M375.61 73.55L378.19 76.13L375.61 78.71L373.03 76.13Z" fill="#b5d69d"/>
<path d="M390.93 80.39L393.51 82.97L390.93 85.55L388.35 82.97Z" fill="#b5d69d"/>
<path d="M406.26 86.38L408.84 88.95L406.26 91.53L403.68 88.95Z" fill="#b5d69d"/>
<path d="M421.58 88.08L424.16 90.66L421.58 93.24L419 90.66Z" fill="#b5d69d"/>
<circle cx="299" cy="36.8" r="2.15" fill="#68ae45"/>
<circle cx="329.64" cy="48.68" r="2.15" fill="#68ae45"/>
<circle cx="344.97" cy="56.72" r="2.15" fill="#68ae45"/>
<circle cx="360.29" cy="66.72" r="2.15" fill="#68ae45"/>
<circle cx="375.61" cy="77.41" r="2.15" fill="#68ae45"/>
<circle cx="390.93" cy="83.82" r="2.15" fill="#68ae45"/>
<circle cx="406.26" cy="89.81" r="2.15" fill="#68ae45"/>
<circle cx="421.58" cy="92.38" r="2.15" fill="#68ae45"/>
<path d="M299 39.16L301.37 35.08L296.63 35.08Z" fill="#e4957c"/>
<path d="M329.64 36.6L332.01 32.52L327.28 32.52Z" fill="#e4957c"/>
<path d="M344.97 44.29L347.33 40.21L342.6 40.21Z" fill="#e4957c"/>
<path d="M360.29 56.26L362.65 52.18L357.92 52.18Z" fill="#e4957c"/>
<path d="M375.61 69.94L377.98 65.86L373.25 65.86Z" fill="#e4957c"/>
<path d="M390.93 77.64L393.3 73.56L388.57 73.56Z" fill="#e4957c"/>
<path d="M406.26 85.33L408.62 81.25L403.89 81.25Z" fill="#e4957c"/>
<path d="M421.58 89.61L423.94 85.53L419.21 85.53Z" fill="#e4957c"/>
<rect x="296.7" y="34.5" width="4.6" height="4.6" fill="#a3283d"/>
<rect x="327.34" y="33.39" width="4.6" height="4.6" fill="#a3283d"/>
<rect x="342.67" y="42.2" width="4.6" height="4.6" fill="#a3283d"/>
<rect x="357.99" y="53.14" width="4.6" height="4.6" fill="#a3283d"/>
<rect x="373.31" y="67.16" width="4.6" height="4.6" fill="#a3283d"/>
<rect x="388.63" y="74.51" width="4.6" height="4.6" fill="#a3283d"/>
<rect x="403.96" y="81.61" width="4.6" height="4.6" fill="#a3283d"/>
<rect x="419.28" y="85.89" width="4.6" height="4.6" fill="#a3283d"/>
<circle cx="299" cy="36.8" r="1.7" fill="#5e3878"/>
<circle cx="329.64" cy="39.36" r="1.7" fill="#5e3878"/>
<circle cx="344.97" cy="48.09" r="1.7" fill="#5e3878"/>
<circle cx="360.29" cy="65.19" r="1.7" fill="#5e3878"/>
<circle cx="375.61" cy="71.34" r="1.7" fill="#5e3878"/>
<circle cx="390.93" cy="81.43" r="1.7" fill="#5e3878"/>
<circle cx="406.26" cy="89.81" r="1.7" fill="#5e3878"/>
<circle cx="421.58" cy="92.2" r="1.7" fill="#5e3878"/>
<text x="294.2" y="125.15" font-size="8" text-anchor="end" fill="#231f20" stroke="#231f20" stroke-width="0.22" >0</text>
<text x="294.2" y="108.05" font-size="8" text-anchor="end" fill="#231f20" stroke="#231f20" stroke-width="0.22" >20</text>
<text x="294.2" y="90.95" font-size="8" text-anchor="end" fill="#231f20" stroke="#231f20" stroke-width="0.22" >40</text>
<text x="294.2" y="73.85" font-size="8" text-anchor="end" fill="#231f20" stroke="#231f20" stroke-width="0.22" >60</text>
<text x="294.2" y="56.75" font-size="8" text-anchor="end" fill="#231f20" stroke="#231f20" stroke-width="0.22" >80</text>
<text x="294.2" y="39.65" font-size="8" text-anchor="end" fill="#231f20" stroke="#231f20" stroke-width="0.22" >100</text>
<line x1="299" y1="122.3" x2="299" y2="125.3" stroke="#231f20" stroke-width="1.0" />
<line x1="314.32" y1="122.3" x2="314.32" y2="123.9" stroke="#231f20" stroke-width="0.8" />
<line x1="323.29" y1="122.3" x2="323.29" y2="123.9" stroke="#231f20" stroke-width="0.8" />
<line x1="329.64" y1="122.3" x2="329.64" y2="123.9" stroke="#231f20" stroke-width="0.8" />
<line x1="334.58" y1="122.3" x2="334.58" y2="123.9" stroke="#231f20" stroke-width="0.8" />
<line x1="338.61" y1="122.3" x2="338.61" y2="123.9" stroke="#231f20" stroke-width="0.8" />
<line x1="342.02" y1="122.3" x2="342.02" y2="123.9" stroke="#231f20" stroke-width="0.8" />
<line x1="344.97" y1="122.3" x2="344.97" y2="123.9" stroke="#231f20" stroke-width="0.8" />
<line x1="347.57" y1="122.3" x2="347.57" y2="123.9" stroke="#231f20" stroke-width="0.8" />
<line x1="349.9" y1="122.3" x2="349.9" y2="125.3" stroke="#231f20" stroke-width="1.0" />
<line x1="365.22" y1="122.3" x2="365.22" y2="123.9" stroke="#231f20" stroke-width="0.8" />
<line x1="374.19" y1="122.3" x2="374.19" y2="123.9" stroke="#231f20" stroke-width="0.8" />
<line x1="380.54" y1="122.3" x2="380.54" y2="123.9" stroke="#231f20" stroke-width="0.8" />
<line x1="385.48" y1="122.3" x2="385.48" y2="123.9" stroke="#231f20" stroke-width="0.8" />
<line x1="389.51" y1="122.3" x2="389.51" y2="123.9" stroke="#231f20" stroke-width="0.8" />
<line x1="392.92" y1="122.3" x2="392.92" y2="123.9" stroke="#231f20" stroke-width="0.8" />
<line x1="395.87" y1="122.3" x2="395.87" y2="123.9" stroke="#231f20" stroke-width="0.8" />
<line x1="398.47" y1="122.3" x2="398.47" y2="123.9" stroke="#231f20" stroke-width="0.8" />
<line x1="400.8" y1="122.3" x2="400.8" y2="125.3" stroke="#231f20" stroke-width="1.0" />
<line x1="416.12" y1="122.3" x2="416.12" y2="123.9" stroke="#231f20" stroke-width="0.8" />
<line x1="425.09" y1="122.3" x2="425.09" y2="123.9" stroke="#231f20" stroke-width="0.8" />
<line x1="431.44" y1="122.3" x2="431.44" y2="123.9" stroke="#231f20" stroke-width="0.8" />
<line x1="436.38" y1="122.3" x2="436.38" y2="123.9" stroke="#231f20" stroke-width="0.8" />
<line x1="440.41" y1="122.3" x2="440.41" y2="123.9" stroke="#231f20" stroke-width="0.8" />
<line x1="443.82" y1="122.3" x2="443.82" y2="123.9" stroke="#231f20" stroke-width="0.8" />
<line x1="446.77" y1="122.3" x2="446.77" y2="123.9" stroke="#231f20" stroke-width="0.8" />
<line x1="449.37" y1="122.3" x2="449.37" y2="123.9" stroke="#231f20" stroke-width="0.8" />
<line x1="451.7" y1="122.3" x2="451.7" y2="125.3" stroke="#231f20" stroke-width="1.0" />
<text x="299" y="135.3" font-size="8" text-anchor="middle" fill="#231f20" stroke="#231f20" stroke-width="0.22" >0.1</text>
<text x="349.9" y="135.3" font-size="8" text-anchor="middle" fill="#231f20" stroke="#231f20" stroke-width="0.22" >1</text>
<text x="400.8" y="135.3" font-size="8" text-anchor="middle" fill="#231f20" stroke="#231f20" stroke-width="0.22" >10</text>
<text x="451.7" y="135.3" font-size="8" text-anchor="middle" fill="#231f20" stroke="#231f20" stroke-width="0.22" >100</text>
<text x="376.9" y="149.3" font-size="9.8" text-anchor="middle" fill="#231f20" stroke="#231f20" stroke-width="0.22" textLength="40.2" lengthAdjust="spacingAndGlyphs" >TXA (mM)</text>
<text transform="translate(273.4,66.6) rotate(-90)" x="0" y="0" font-size="8.2" text-anchor="middle" fill="#231f20" textLength="102" lengthAdjust="spacingAndGlyphs" stroke="#231f20" stroke-width="0.22">Residual clot lysis activity %</text>
<line x1="432.8" y1="63.3" x2="444.7" y2="63.3" stroke="#5e3878" stroke-width="1.5" />
<circle cx="438.7" cy="63.3" r="2.2" fill="#5e3878"/>
<text x="448.4" y="65.8" font-size="7.2" text-anchor="start" fill="#231f20" stroke="#231f20" stroke-width="0.22" >Plm</text>
<line x1="432.8" y1="74.65" x2="444.7" y2="74.65" stroke="#e4957c" stroke-width="1.5" />
<path d="M438.7 77.07L441.12 72.89L436.28 72.89Z" fill="#e4957c"/>
<text x="448.4" y="77.15" font-size="7.2" text-anchor="start" fill="#231f20" stroke="#231f20" stroke-width="0.22" >Plg/100 U uPA</text>
<line x1="432.8" y1="86" x2="444.7" y2="86" stroke="#a3283d" stroke-width="1.5" />
<rect x="436.5" y="83.8" width="4.4" height="4.4" fill="#a3283d"/>
<text x="448.4" y="88.5" font-size="7.2" text-anchor="start" fill="#231f20" stroke="#231f20" stroke-width="0.22" >Plg/400 U uPA</text>
<line x1="432.8" y1="97.35" x2="444.7" y2="97.35" stroke="#b5d69d" stroke-width="1.5" />
<path d="M438.7 94.71L441.34 97.35L438.7 99.99L436.06 97.35Z" fill="#b5d69d"/>
<text x="448.4" y="99.85" font-size="7.2" text-anchor="start" fill="#231f20" stroke="#231f20" stroke-width="0.22" >Plg/70 nM tPA</text>
<line x1="432.8" y1="108.7" x2="444.7" y2="108.7" stroke="#68ae45" stroke-width="1.5" />
<circle cx="438.7" cy="108.7" r="2.2" fill="#68ae45"/>
<text x="448.4" y="111.2" font-size="7.2" text-anchor="start" fill="#231f20" stroke="#231f20" stroke-width="0.22" >Plg/350 nM tPA</text>
<text x="7.2" y="171" font-size="11" text-anchor="start" fill="#231f20" stroke="#231f20" stroke-width="0.25" textLength="7.6" lengthAdjust="spacingAndGlyphs" >C</text>
<path d="M42.01 200.82 L43.8 200.84 L45.59 200.86 L47.38 200.87 L49.17 200.9 L50.96 200.92 L52.75 200.95 L54.54 200.98 L56.33 201.02 L58.12 201.06 L59.91 201.11 L61.7 201.16 L63.49 201.22 L65.28 201.28 L67.07 201.35 L68.86 201.44 L70.65 201.53 L72.44 201.64 L74.23 201.75 L76.02 201.89 L77.81 202.04 L79.6 202.21 L81.39 202.4 L83.18 202.61 L84.97 202.85 L86.76 203.11 L88.55 203.41 L90.34 203.75 L92.13 204.12 L93.92 204.54 L95.71 205.01 L97.5 205.53 L99.29 206.1 L101.08 206.75 L102.87 207.46 L104.66 208.25 L106.45 209.12 L108.24 210.08 L110.03 211.13 L111.82 212.28 L113.61 213.54 L115.4 214.91 L117.19 216.39 L118.98 217.99 L120.77 219.7 L122.56 221.54 L124.35 223.49 L126.14 225.55 L127.93 227.71 L129.72 229.97 L131.51 232.32 L133.3 234.74 L135.09 237.21 L136.88 239.73 L138.67 242.27 L140.46 244.81 L142.25 247.34 L144.04 249.84 L145.83 252.29 L147.62 254.68 L149.41 256.99 L151.2 259.21 L152.99 261.32 L154.78 263.33 L156.57 265.23 L158.36 267.01 L160.15 268.67 L161.94 270.21 L163.73 271.64 L165.52 272.96 L167.31 274.17 L169.1 275.27 L170.89 276.28 L172.68 277.2 L174.47 278.03 L176.26 278.78 L178.05 279.46 L179.84 280.07 L181.63 280.62 L183.42 281.12 L185.21 281.56" fill="none" stroke="#a82232" stroke-width="1.4" />
<path d="M45.2 260.11 L56 268.56 L79.9 260.11 L90.2 246.8 L103.81 221.2 L114.1 202.51 L120.13 200.72 L124.4 200.98 L134.7 208.14 L148.3 234.26 L164.62 256.78 L182.5 273.68" fill="none" stroke="#5b3a78" stroke-width="1.3"/>
<rect x="43.7" y="258.61" width="3" height="3" fill="#5b3a78"/>
<rect x="54.5" y="267.06" width="3" height="3" fill="#5b3a78"/>
<rect x="78.4" y="258.61" width="3" height="3" fill="#5b3a78"/>
<rect x="88.7" y="245.3" width="3" height="3" fill="#5b3a78"/>
<rect x="102.31" y="219.7" width="3" height="3" fill="#5b3a78"/>
<rect x="112.6" y="201.01" width="3" height="3" fill="#5b3a78"/>
<rect x="118.63" y="199.22" width="3" height="3" fill="#5b3a78"/>
<rect x="122.9" y="199.48" width="3" height="3" fill="#5b3a78"/>
<rect x="133.2" y="206.64" width="3" height="3" fill="#5b3a78"/>
<rect x="146.8" y="232.76" width="3" height="3" fill="#5b3a78"/>
<rect x="163.12" y="255.28" width="3" height="3" fill="#5b3a78"/>
<rect x="181" y="272.18" width="3" height="3" fill="#5b3a78"/>
<line x1="114.1" y1="200.46" x2="114.1" y2="204.56" stroke="#5b3a78" stroke-width="0.8" />
<line x1="112.1" y1="200.46" x2="116.1" y2="200.46" stroke="#5b3a78" stroke-width="0.8" />
<line x1="112.1" y1="204.56" x2="116.1" y2="204.56" stroke="#5b3a78" stroke-width="0.8" />
<line x1="120.13" y1="198.67" x2="120.13" y2="202.77" stroke="#5b3a78" stroke-width="0.8" />
<line x1="118.13" y1="198.67" x2="122.13" y2="198.67" stroke="#5b3a78" stroke-width="0.8" />
<line x1="118.13" y1="202.77" x2="122.13" y2="202.77" stroke="#5b3a78" stroke-width="0.8" />
<line x1="124.4" y1="198.93" x2="124.4" y2="203.02" stroke="#5b3a78" stroke-width="0.8" />
<line x1="122.4" y1="198.93" x2="126.4" y2="198.93" stroke="#5b3a78" stroke-width="0.8" />
<line x1="122.4" y1="203.02" x2="126.4" y2="203.02" stroke="#5b3a78" stroke-width="0.8" />
<line x1="134.7" y1="206.86" x2="134.7" y2="209.42" stroke="#5b3a78" stroke-width="0.8" />
<line x1="132.7" y1="206.86" x2="136.7" y2="206.86" stroke="#5b3a78" stroke-width="0.8" />
<line x1="132.7" y1="209.42" x2="136.7" y2="209.42" stroke="#5b3a78" stroke-width="0.8" />
<line x1="148.3" y1="233.23" x2="148.3" y2="235.28" stroke="#5b3a78" stroke-width="0.8" />
<line x1="146.3" y1="233.23" x2="150.3" y2="233.23" stroke="#5b3a78" stroke-width="0.8" />
<line x1="146.3" y1="235.28" x2="150.3" y2="235.28" stroke="#5b3a78" stroke-width="0.8" />
<line x1="45.2" y1="198.16" x2="45.2" y2="205.77" stroke="#a82232" stroke-width="0.9" />
<line x1="43" y1="198.16" x2="47.4" y2="198.16" stroke="#a82232" stroke-width="0.9" />
<line x1="43" y1="205.77" x2="47.4" y2="205.77" stroke="#a82232" stroke-width="0.9" />
<path d="M45.2 203.84L47.07 200.61L43.33 200.61Z" fill="#a82232"/>
<line x1="56" y1="196.47" x2="56" y2="204.08" stroke="#a82232" stroke-width="0.9" />
<line x1="53.8" y1="196.47" x2="58.2" y2="196.47" stroke="#a82232" stroke-width="0.9" />
<line x1="53.8" y1="204.08" x2="58.2" y2="204.08" stroke="#a82232" stroke-width="0.9" />
<path d="M56 202.15L57.87 198.92L54.13 198.92Z" fill="#a82232"/>
<line x1="79.9" y1="197.74" x2="79.9" y2="203.66" stroke="#a82232" stroke-width="0.9" />
<line x1="77.7" y1="197.74" x2="82.1" y2="197.74" stroke="#a82232" stroke-width="0.9" />
<line x1="77.7" y1="203.66" x2="82.1" y2="203.66" stroke="#a82232" stroke-width="0.9" />
<path d="M79.9 202.57L81.77 199.34L78.03 199.34Z" fill="#a82232"/>
<path d="M90.2 203.46L92.62 199.28L87.78 199.28Z" fill="#a82232"/>
<line x1="103.81" y1="204.93" x2="103.81" y2="210" stroke="#a82232" stroke-width="0.9" />
<line x1="101.61" y1="204.93" x2="106.01" y2="204.93" stroke="#a82232" stroke-width="0.9" />
<line x1="101.61" y1="210" x2="106.01" y2="210" stroke="#a82232" stroke-width="0.9" />
<path d="M103.81 209.33L105.68 206.1L101.94 206.1Z" fill="#a82232"/>
<line x1="114.1" y1="208.47" x2="114.1" y2="218.28" stroke="#a82232" stroke-width="0.9" />
<line x1="111.9" y1="208.47" x2="116.3" y2="208.47" stroke="#a82232" stroke-width="0.9" />
<line x1="111.9" y1="218.28" x2="116.3" y2="218.28" stroke="#a82232" stroke-width="0.9" />
<path d="M114.1 215.25L115.97 212.01L112.23 212.01Z" fill="#a82232"/>
<path d="M120.13 216.6L122 213.37L118.26 213.37Z" fill="#a82232"/>
<line x1="124.4" y1="220.22" x2="124.4" y2="226.3" stroke="#a82232" stroke-width="0.9" />
<line x1="122.2" y1="220.22" x2="126.6" y2="220.22" stroke="#a82232" stroke-width="0.9" />
<line x1="122.2" y1="226.3" x2="126.6" y2="226.3" stroke="#a82232" stroke-width="0.9" />
<path d="M124.4 225.13L126.27 221.9L122.53 221.9Z" fill="#a82232"/>
<path d="M134.7 237.22L136.57 233.98L132.83 233.98Z" fill="#a82232"/>
<path d="M148.3 257.5L150.17 254.26L146.43 254.26Z" fill="#a82232"/>
<path d="M164.62 275.24L166.49 272.01L162.75 272.01Z" fill="#a82232"/>
<path d="M182.5 283.18L184.37 279.95L180.63 279.95Z" fill="#a82232"/>
<line x1="42.3" y1="180.8" x2="42.3" y2="285.8" stroke="#231f20" stroke-width="1.4" />
<line x1="193.6" y1="180.5" x2="193.6" y2="285.8" stroke="#231f20" stroke-width="1.4" />
<line x1="39.2" y1="285.2" x2="194.2" y2="285.2" stroke="#231f20" stroke-width="1.3" />
<line x1="39.5" y1="285.2" x2="42.3" y2="285.2" stroke="#231f20" stroke-width="1.1" />
<text x="36.2" y="288.05" font-size="8" text-anchor="end" fill="#231f20" stroke="#231f20" stroke-width="0.22" >0</text>
<line x1="39.5" y1="259.6" x2="42.3" y2="259.6" stroke="#231f20" stroke-width="1.1" />
<text x="36.2" y="262.45" font-size="8" text-anchor="end" fill="#231f20" stroke="#231f20" stroke-width="0.22" >100</text>
<line x1="39.5" y1="234" x2="42.3" y2="234" stroke="#231f20" stroke-width="1.1" />
<text x="36.2" y="236.85" font-size="8" text-anchor="end" fill="#231f20" stroke="#231f20" stroke-width="0.22" >200</text>
<line x1="39.5" y1="208.4" x2="42.3" y2="208.4" stroke="#231f20" stroke-width="1.1" />
<text x="36.2" y="211.25" font-size="8" text-anchor="end" fill="#231f20" stroke="#231f20" stroke-width="0.22" >300</text>
<line x1="39.5" y1="182.8" x2="42.3" y2="182.8" stroke="#231f20" stroke-width="1.1" />
<text x="36.2" y="185.65" font-size="8" text-anchor="end" fill="#231f20" stroke="#231f20" stroke-width="0.22" >400</text>
<line x1="193.6" y1="285.2" x2="196.4" y2="285.2" stroke="#231f20" stroke-width="1.1" />
<text x="199.6" y="288.05" font-size="8" text-anchor="start" fill="#231f20" stroke="#231f20" stroke-width="0.22" >0</text>
<line x1="193.6" y1="268.3" x2="196.4" y2="268.3" stroke="#231f20" stroke-width="1.1" />
<text x="199.6" y="271.15" font-size="8" text-anchor="start" fill="#231f20" stroke="#231f20" stroke-width="0.22" >20</text>
<line x1="193.6" y1="251.4" x2="196.4" y2="251.4" stroke="#231f20" stroke-width="1.1" />
<text x="199.6" y="254.25" font-size="8" text-anchor="start" fill="#231f20" stroke="#231f20" stroke-width="0.22" >40</text>
<line x1="193.6" y1="234.5" x2="196.4" y2="234.5" stroke="#231f20" stroke-width="1.1" />
<text x="199.6" y="237.35" font-size="8" text-anchor="start" fill="#231f20" stroke="#231f20" stroke-width="0.22" >60</text>
<line x1="193.6" y1="217.6" x2="196.4" y2="217.6" stroke="#231f20" stroke-width="1.1" />
<text x="199.6" y="220.45" font-size="8" text-anchor="start" fill="#231f20" stroke="#231f20" stroke-width="0.22" >80</text>
<line x1="193.6" y1="200.7" x2="196.4" y2="200.7" stroke="#231f20" stroke-width="1.1" />
<text x="199.6" y="203.55" font-size="8" text-anchor="start" fill="#231f20" stroke="#231f20" stroke-width="0.22" >100</text>
<line x1="193.6" y1="183.8" x2="196.4" y2="183.8" stroke="#231f20" stroke-width="1.1" />
<text x="199.6" y="186.65" font-size="8" text-anchor="start" fill="#231f20" stroke="#231f20" stroke-width="0.22" >120</text>
<line x1="56" y1="285.2" x2="56" y2="288.2" stroke="#231f20" stroke-width="1.0" />
<line x1="66.3" y1="285.2" x2="66.3" y2="286.8" stroke="#231f20" stroke-width="0.8" />
<line x1="72.32" y1="285.2" x2="72.32" y2="286.8" stroke="#231f20" stroke-width="0.8" />
<line x1="76.59" y1="285.2" x2="76.59" y2="286.8" stroke="#231f20" stroke-width="0.8" />
<line x1="79.9" y1="285.2" x2="79.9" y2="286.8" stroke="#231f20" stroke-width="0.8" />
<line x1="82.61" y1="285.2" x2="82.61" y2="286.8" stroke="#231f20" stroke-width="0.8" />
<line x1="84.9" y1="285.2" x2="84.9" y2="286.8" stroke="#231f20" stroke-width="0.8" />
<line x1="86.89" y1="285.2" x2="86.89" y2="286.8" stroke="#231f20" stroke-width="0.8" />
<line x1="88.64" y1="285.2" x2="88.64" y2="286.8" stroke="#231f20" stroke-width="0.8" />
<line x1="90.2" y1="285.2" x2="90.2" y2="288.2" stroke="#231f20" stroke-width="1.0" />
<line x1="100.5" y1="285.2" x2="100.5" y2="286.8" stroke="#231f20" stroke-width="0.8" />
<line x1="106.52" y1="285.2" x2="106.52" y2="286.8" stroke="#231f20" stroke-width="0.8" />
<line x1="110.79" y1="285.2" x2="110.79" y2="286.8" stroke="#231f20" stroke-width="0.8" />
<line x1="114.1" y1="285.2" x2="114.1" y2="286.8" stroke="#231f20" stroke-width="0.8" />
<line x1="116.81" y1="285.2" x2="116.81" y2="286.8" stroke="#231f20" stroke-width="0.8" />
<line x1="119.1" y1="285.2" x2="119.1" y2="286.8" stroke="#231f20" stroke-width="0.8" />
<line x1="121.09" y1="285.2" x2="121.09" y2="286.8" stroke="#231f20" stroke-width="0.8" />
<line x1="122.84" y1="285.2" x2="122.84" y2="286.8" stroke="#231f20" stroke-width="0.8" />
<line x1="124.4" y1="285.2" x2="124.4" y2="288.2" stroke="#231f20" stroke-width="1.0" />
<line x1="134.7" y1="285.2" x2="134.7" y2="286.8" stroke="#231f20" stroke-width="0.8" />
<line x1="140.72" y1="285.2" x2="140.72" y2="286.8" stroke="#231f20" stroke-width="0.8" />
<line x1="144.99" y1="285.2" x2="144.99" y2="286.8" stroke="#231f20" stroke-width="0.8" />
<line x1="148.3" y1="285.2" x2="148.3" y2="286.8" stroke="#231f20" stroke-width="0.8" />
<line x1="151.01" y1="285.2" x2="151.01" y2="286.8" stroke="#231f20" stroke-width="0.8" />
<line x1="153.3" y1="285.2" x2="153.3" y2="286.8" stroke="#231f20" stroke-width="0.8" />
<line x1="155.29" y1="285.2" x2="155.29" y2="286.8" stroke="#231f20" stroke-width="0.8" />
<line x1="157.04" y1="285.2" x2="157.04" y2="286.8" stroke="#231f20" stroke-width="0.8" />
<line x1="158.6" y1="285.2" x2="158.6" y2="288.2" stroke="#231f20" stroke-width="1.0" />
<line x1="168.9" y1="285.2" x2="168.9" y2="286.8" stroke="#231f20" stroke-width="0.8" />
<line x1="174.92" y1="285.2" x2="174.92" y2="286.8" stroke="#231f20" stroke-width="0.8" />
<line x1="179.19" y1="285.2" x2="179.19" y2="286.8" stroke="#231f20" stroke-width="0.8" />
<line x1="182.5" y1="285.2" x2="182.5" y2="286.8" stroke="#231f20" stroke-width="0.8" />
<line x1="185.21" y1="285.2" x2="185.21" y2="286.8" stroke="#231f20" stroke-width="0.8" />
<line x1="187.5" y1="285.2" x2="187.5" y2="286.8" stroke="#231f20" stroke-width="0.8" />
<line x1="189.49" y1="285.2" x2="189.49" y2="286.8" stroke="#231f20" stroke-width="0.8" />
<line x1="191.24" y1="285.2" x2="191.24" y2="286.8" stroke="#231f20" stroke-width="0.8" />
<line x1="192.8" y1="285.2" x2="192.8" y2="288.2" stroke="#231f20" stroke-width="1.0" />
<line x1="45.7" y1="285.2" x2="45.7" y2="286.8" stroke="#231f20" stroke-width="0.8" />
<line x1="48.41" y1="285.2" x2="48.41" y2="286.8" stroke="#231f20" stroke-width="0.8" />
<line x1="50.7" y1="285.2" x2="50.7" y2="286.8" stroke="#231f20" stroke-width="0.8" />
<line x1="52.69" y1="285.2" x2="52.69" y2="286.8" stroke="#231f20" stroke-width="0.8" />
<line x1="54.44" y1="285.2" x2="54.44" y2="286.8" stroke="#231f20" stroke-width="0.8" />
<text x="45.4" y="299.2" font-size="8" text-anchor="middle" fill="#231f20" stroke="#231f20" stroke-width="0.22" >0</text>
<text x="56.6" y="299.2" font-size="8" text-anchor="middle" fill="#231f20" stroke="#231f20" stroke-width="0.22" >0.01</text>
<text x="90.8" y="299.2" font-size="8" text-anchor="middle" fill="#231f20" stroke="#231f20" stroke-width="0.22" >0.1</text>
<text x="125" y="299.2" font-size="8" text-anchor="middle" fill="#231f20" stroke="#231f20" stroke-width="0.22" >1</text>
<text x="159.2" y="299.2" font-size="8" text-anchor="middle" fill="#231f20" stroke="#231f20" stroke-width="0.22" >10</text>
<text x="193.4" y="299.2" font-size="8" text-anchor="middle" fill="#231f20" stroke="#231f20" stroke-width="0.22" >100</text>
<text x="117.3" y="311.3" font-size="9.8" text-anchor="middle" fill="#231f20" stroke="#231f20" stroke-width="0.22" textLength="40.9" lengthAdjust="spacingAndGlyphs" >TXA (mM)</text>
<text transform="translate(16.3,232.8) rotate(-90)" x="0" y="0" font-size="9.6" text-anchor="middle" fill="#6b4f8c" textLength="93.6" lengthAdjust="spacingAndGlyphs" stroke="#6b4f8c" stroke-width="0.22">Residual Plm activity %</text>
<text transform="translate(219.4,232.9) rotate(90)" x="0" y="0" font-size="9.8" text-anchor="middle" fill="#ad2e45" textLength="94.2" lengthAdjust="spacingAndGlyphs" stroke="#ad2e45" stroke-width="0.22">Residual uPA activity %</text>
<text x="265.6" y="170.6" font-size="11" text-anchor="start" fill="#231f20" stroke="#231f20" stroke-width="0.25" textLength="7.3" lengthAdjust="spacingAndGlyphs" >D</text>
<defs>
<clipPath id="dclip"><rect x="280" y="174" width="194.3" height="145.3"/></clipPath>
<filter id="b1" x="-50%" y="-50%" width="200%" height="200%"><feGaussianBlur stdDeviation="1"/></filter>
<filter id="b2" x="-50%" y="-50%" width="200%" height="200%"><feGaussianBlur stdDeviation="2"/></filter>
<filter id="b3" x="-50%" y="-50%" width="200%" height="200%"><feGaussianBlur stdDeviation="3"/></filter>
<filter id="b5" x="-50%" y="-50%" width="200%" height="200%"><feGaussianBlur stdDeviation="5"/></filter>
<filter id="b8" x="-50%" y="-50%" width="200%" height="200%"><feGaussianBlur stdDeviation="8"/></filter>
<filter id="b12" x="-50%" y="-50%" width="200%" height="200%"><feGaussianBlur stdDeviation="12"/></filter>
<filter id="b0" x="-50%" y="-50%" width="200%" height="200%"><feGaussianBlur stdDeviation="0.5"/></filter>
<filter id="bg" x="-10%" y="-10%" width="120%" height="120%"><feGaussianBlur stdDeviation="6"/></filter>
</defs>
<g clip-path="url(#dclip)">
<rect x="280" y="174" width="194.3" height="145.3" fill="#b0a8c0"/>
<g filter="url(#bg)">
<rect x="247.32" y="141.41" width="16.79" height="16.74" fill="#5858a4"/>
<rect x="263.51" y="141.41" width="16.79" height="16.74" fill="#5858a4"/>
<rect x="279.70" y="141.41" width="16.79" height="16.74" fill="#5858a4"/>
<rect x="295.89" y="141.41" width="16.79" height="16.74" fill="#5a5aa6"/>
<rect x="312.08" y="141.41" width="16.79" height="16.74" fill="#6060aa"/>
<rect x="328.27" y="141.41" width="16.79" height="16.74" fill="#8484c0"/>
<rect x="344.47" y="141.41" width="16.79" height="16.74" fill="#d0cce0"/>
<rect x="360.66" y="141.41" width="16.79" height="16.74" fill="#b8b0b0"/>
<rect x="376.85" y="141.41" width="16.79" height="16.74" fill="#9a9290"/>
<rect x="393.04" y="141.41" width="16.79" height="16.74" fill="#b8a0a0"/>
<rect x="409.23" y="141.41" width="16.79" height="16.74" fill="#d8a0a0"/>
<rect x="425.43" y="141.41" width="16.79" height="16.74" fill="#d89090"/>
<rect x="441.62" y="141.41" width="16.79" height="16.74" fill="#d88888"/>
<rect x="457.81" y="141.41" width="16.79" height="16.74" fill="#d88080"/>
<rect x="474.00" y="141.41" width="16.79" height="16.74" fill="#d88080"/>
<rect x="490.19" y="141.41" width="16.79" height="16.74" fill="#d88080"/>
<rect x="247.32" y="157.56" width="16.79" height="16.74" fill="#5858a4"/>
<rect x="263.51" y="157.56" width="16.79" height="16.74" fill="#5858a4"/>
<rect x="279.70" y="157.56" width="16.79" height="16.74" fill="#5858a4"/>
<rect x="295.89" y="157.56" width="16.79" height="16.74" fill="#5a5aa6"/>
<rect x="312.08" y="157.56" width="16.79" height="16.74" fill="#6060aa"/>
<rect x="328.27" y="157.56" width="16.79" height="16.74" fill="#8484c0"/>
<rect x="344.47" y="157.56" width="16.79" height="16.74" fill="#d0cce0"/>
<rect x="360.66" y="157.56" width="16.79" height="16.74" fill="#b8b0b0"/>
<rect x="376.85" y="157.56" width="16.79" height="16.74" fill="#9a9290"/>
<rect x="393.04" y="157.56" width="16.79" height="16.74" fill="#b8a0a0"/>
<rect x="409.23" y="157.56" width="16.79" height="16.74" fill="#d8a0a0"/>
<rect x="425.43" y="157.56" width="16.79" height="16.74" fill="#d89090"/>
<rect x="441.62" y="157.56" width="16.79" height="16.74" fill="#d88888"/>
<rect x="457.81" y="157.56" width="16.79" height="16.74" fill="#d88080"/>
<rect x="474.00" y="157.56" width="16.79" height="16.74" fill="#d88080"/>
<rect x="490.19" y="157.56" width="16.79" height="16.74" fill="#d88080"/>
<rect x="247.32" y="173.70" width="16.79" height="16.74" fill="#5858a4"/>
<rect x="263.51" y="173.70" width="16.79" height="16.74" fill="#5858a4"/>
<rect x="279.70" y="173.70" width="16.79" height="16.74" fill="#5858a4"/>
<rect x="295.89" y="173.70" width="16.79" height="16.74" fill="#5a5aa6"/>
<rect x="312.08" y="173.70" width="16.79" height="16.74" fill="#6060aa"/>
<rect x="328.27" y="173.70" width="16.79" height="16.74" fill="#8484c0"/>
<rect x="344.47" y="173.70" width="16.79" height="16.74" fill="#d0cce0"/>
<rect x="360.66" y="173.70" width="16.79" height="16.74" fill="#b8b0b0"/>
<rect x="376.85" y="173.70" width="16.79" height="16.74" fill="#9a9290"/>
<rect x="393.04" y="173.70" width="16.79" height="16.74" fill="#b8a0a0"/>
<rect x="409.23" y="173.70" width="16.79" height="16.74" fill="#d8a0a0"/>
<rect x="425.43" y="173.70" width="16.79" height="16.74" fill="#d89090"/>
<rect x="441.62" y="173.70" width="16.79" height="16.74" fill="#d88888"/>
<rect x="457.81" y="173.70" width="16.79" height="16.74" fill="#d88080"/>
<rect x="474.00" y="173.70" width="16.79" height="16.74" fill="#d88080"/>
<rect x="490.19" y="173.70" width="16.79" height="16.74" fill="#d88080"/>
<rect x="247.32" y="189.84" width="16.79" height="16.74" fill="#5858a2"/>
<rect x="263.51" y="189.84" width="16.79" height="16.74" fill="#5858a2"/>
<rect x="279.70" y="189.84" width="16.79" height="16.74" fill="#5858a2"/>
<rect x="295.89" y="189.84" width="16.79" height="16.74" fill="#5c5ca6"/>
<rect x="312.08" y="189.84" width="16.79" height="16.74" fill="#6666ae"/>
<rect x="328.27" y="189.84" width="16.79" height="16.74" fill="#7c7cbc"/>
<rect x="344.47" y="189.84" width="16.79" height="16.74" fill="#a8a4b8"/>
<rect x="360.66" y="189.84" width="16.79" height="16.74" fill="#858684"/>
<rect x="376.85" y="189.84" width="16.79" height="16.74" fill="#b8a0a0"/>
<rect x="393.04" y="189.84" width="16.79" height="16.74" fill="#c8a4a4"/>
<rect x="409.23" y="189.84" width="16.79" height="16.74" fill="#d0a0a0"/>
<rect x="425.43" y="189.84" width="16.79" height="16.74" fill="#d89898"/>
<rect x="441.62" y="189.84" width="16.79" height="16.74" fill="#d89090"/>
<rect x="457.81" y="189.84" width="16.79" height="16.74" fill="#d88080"/>
<rect x="474.00" y="189.84" width="16.79" height="16.74" fill="#d88080"/>
<rect x="490.19" y="189.84" width="16.79" height="16.74" fill="#d88080"/>
<rect x="247.32" y="205.99" width="16.79" height="16.74" fill="#5a5aa6"/>
<rect x="263.51" y="205.99" width="16.79" height="16.74" fill="#5a5aa6"/>
<rect x="279.70" y="205.99" width="16.79" height="16.74" fill="#5a5aa6"/>
<rect x="295.89" y="205.99" width="16.79" height="16.74" fill="#6262aa"/>
<rect x="312.08" y="205.99" width="16.79" height="16.74" fill="#7070b4"/>
<rect x="328.27" y="205.99" width="16.79" height="16.74" fill="#8c8cc4"/>
<rect x="344.47" y="205.99" width="16.79" height="16.74" fill="#8c8c90"/>
<rect x="360.66" y="205.99" width="16.79" height="16.74" fill="#d0a4a4"/>
<rect x="376.85" y="205.99" width="16.79" height="16.74" fill="#d6a6a6"/>
<rect x="393.04" y="205.99" width="16.79" height="16.74" fill="#b0a0a0"/>
<rect x="409.23" y="205.99" width="16.79" height="16.74" fill="#c8a0a0"/>
<rect x="425.43" y="205.99" width="16.79" height="16.74" fill="#d89494"/>
<rect x="441.62" y="205.99" width="16.79" height="16.74" fill="#d88888"/>
<rect x="457.81" y="205.99" width="16.79" height="16.74" fill="#d87c7c"/>
<rect x="474.00" y="205.99" width="16.79" height="16.74" fill="#d87c7c"/>
<rect x="490.19" y="205.99" width="16.79" height="16.74" fill="#d87c7c"/>
<rect x="247.32" y="222.13" width="16.79" height="16.74" fill="#6060a8"/>
<rect x="263.51" y="222.13" width="16.79" height="16.74" fill="#6060a8"/>
<rect x="279.70" y="222.13" width="16.79" height="16.74" fill="#6060a8"/>
<rect x="295.89" y="222.13" width="16.79" height="16.74" fill="#7070b2"/>
<rect x="312.08" y="222.13" width="16.79" height="16.74" fill="#9898c8"/>
<rect x="328.27" y="222.13" width="16.79" height="16.74" fill="#a8a8d2"/>
<rect x="344.47" y="222.13" width="16.79" height="16.74" fill="#a8a0a4"/>
<rect x="360.66" y="222.13" width="16.79" height="16.74" fill="#c8a0a0"/>
<rect x="376.85" y="222.13" width="16.79" height="16.74" fill="#d0a6a6"/>
<rect x="393.04" y="222.13" width="16.79" height="16.74" fill="#a8a0a0"/>
<rect x="409.23" y="222.13" width="16.79" height="16.74" fill="#c8a8a8"/>
<rect x="425.43" y="222.13" width="16.79" height="16.74" fill="#d89898"/>
<rect x="441.62" y="222.13" width="16.79" height="16.74" fill="#d88888"/>
<rect x="457.81" y="222.13" width="16.79" height="16.74" fill="#c86868"/>
<rect x="474.00" y="222.13" width="16.79" height="16.74" fill="#c86868"/>
<rect x="490.19" y="222.13" width="16.79" height="16.74" fill="#c86868"/>
<rect x="247.32" y="238.28" width="16.79" height="16.74" fill="#7070b4"/>
<rect x="263.51" y="238.28" width="16.79" height="16.74" fill="#7070b4"/>
<rect x="279.70" y="238.28" width="16.79" height="16.74" fill="#7070b4"/>
<rect x="295.89" y="238.28" width="16.79" height="16.74" fill="#7878b8"/>
<rect x="312.08" y="238.28" width="16.79" height="16.74" fill="#9c9cc8"/>
<rect x="328.27" y="238.28" width="16.79" height="16.74" fill="#c0bcd0"/>
<rect x="344.47" y="238.28" width="16.79" height="16.74" fill="#d05858"/>
<rect x="360.66" y="238.28" width="16.79" height="16.74" fill="#d87878"/>
<rect x="376.85" y="238.28" width="16.79" height="16.74" fill="#e0b0b0"/>
<rect x="393.04" y="238.28" width="16.79" height="16.74" fill="#a49ca0"/>
<rect x="409.23" y="238.28" width="16.79" height="16.74" fill="#b0a4a8"/>
<rect x="425.43" y="238.28" width="16.79" height="16.74" fill="#d89898"/>
<rect x="441.62" y="238.28" width="16.79" height="16.74" fill="#d88080"/>
<rect x="457.81" y="238.28" width="16.79" height="16.74" fill="#c05050"/>
<rect x="474.00" y="238.28" width="16.79" height="16.74" fill="#c05050"/>
<rect x="490.19" y="238.28" width="16.79" height="16.74" fill="#c05050"/>
<rect x="247.32" y="254.42" width="16.79" height="16.74" fill="#8888c4"/>
<rect x="263.51" y="254.42" width="16.79" height="16.74" fill="#8888c4"/>
<rect x="279.70" y="254.42" width="16.79" height="16.74" fill="#8888c4"/>
<rect x="295.89" y="254.42" width="16.79" height="16.74" fill="#9090c8"/>
<rect x="312.08" y="254.42" width="16.79" height="16.74" fill="#a8a8d0"/>
<rect x="328.27" y="254.42" width="16.79" height="16.74" fill="#c8b8c8"/>
<rect x="344.47" y="254.42" width="16.79" height="16.74" fill="#d05050"/>
<rect x="360.66" y="254.42" width="16.79" height="16.74" fill="#d88080"/>
<rect x="376.85" y="254.42" width="16.79" height="16.74" fill="#d8b0b0"/>
<rect x="393.04" y="254.42" width="16.79" height="16.74" fill="#a8a0a8"/>
<rect x="409.23" y="254.42" width="16.79" height="16.74" fill="#aca4ac"/>
<rect x="425.43" y="254.42" width="16.79" height="16.74" fill="#c0a0a4"/>
<rect x="441.62" y="254.42" width="16.79" height="16.74" fill="#c88c8c"/>
<rect x="457.81" y="254.42" width="16.79" height="16.74" fill="#b84848"/>
<rect x="474.00" y="254.42" width="16.79" height="16.74" fill="#b84848"/>
<rect x="490.19" y="254.42" width="16.79" height="16.74" fill="#b84848"/>
<rect x="247.32" y="270.57" width="16.79" height="16.74" fill="#a4a0d4"/>
<rect x="263.51" y="270.57" width="16.79" height="16.74" fill="#a4a0d4"/>
<rect x="279.70" y="270.57" width="16.79" height="16.74" fill="#a4a0d4"/>
<rect x="295.89" y="270.57" width="16.79" height="16.74" fill="#a8a8d8"/>
<rect x="312.08" y="270.57" width="16.79" height="16.74" fill="#b0b0d8"/>
<rect x="328.27" y="270.57" width="16.79" height="16.74" fill="#c0b0c8"/>
<rect x="344.47" y="270.57" width="16.79" height="16.74" fill="#d0a0a8"/>
<rect x="360.66" y="270.57" width="16.79" height="16.74" fill="#ccbcc4"/>
<rect x="376.85" y="270.57" width="16.79" height="16.74" fill="#c8c0d0"/>
<rect x="393.04" y="270.57" width="16.79" height="16.74" fill="#b0acc4"/>
<rect x="409.23" y="270.57" width="16.79" height="16.74" fill="#b4b0c8"/>
<rect x="425.43" y="270.57" width="16.79" height="16.74" fill="#c8a8b0"/>
<rect x="441.62" y="270.57" width="16.79" height="16.74" fill="#c09090"/>
<rect x="457.81" y="270.57" width="16.79" height="16.74" fill="#b07070"/>
<rect x="474.00" y="270.57" width="16.79" height="16.74" fill="#b07070"/>
<rect x="490.19" y="270.57" width="16.79" height="16.74" fill="#b07070"/>
<rect x="247.32" y="286.71" width="16.79" height="16.74" fill="#b8b4e0"/>
<rect x="263.51" y="286.71" width="16.79" height="16.74" fill="#b8b4e0"/>
<rect x="279.70" y="286.71" width="16.79" height="16.74" fill="#b8b4e0"/>
<rect x="295.89" y="286.71" width="16.79" height="16.74" fill="#c0bce4"/>
<rect x="312.08" y="286.71" width="16.79" height="16.74" fill="#b8b4dc"/>
<rect x="328.27" y="286.71" width="16.79" height="16.74" fill="#b8b4d4"/>
<rect x="344.47" y="286.71" width="16.79" height="16.74" fill="#b0acc4"/>
<rect x="360.66" y="286.71" width="16.79" height="16.74" fill="#aca8c0"/>
<rect x="376.85" y="286.71" width="16.79" height="16.74" fill="#a8a4bc"/>
<rect x="393.04" y="286.71" width="16.79" height="16.74" fill="#bcb8d0"/>
<rect x="409.23" y="286.71" width="16.79" height="16.74" fill="#c8c4d8"/>
<rect x="425.43" y="286.71" width="16.79" height="16.74" fill="#c8b0b8"/>
<rect x="441.62" y="286.71" width="16.79" height="16.74" fill="#bc9090"/>
<rect x="457.81" y="286.71" width="16.79" height="16.74" fill="#ac6c6c"/>
<rect x="474.00" y="286.71" width="16.79" height="16.74" fill="#ac6c6c"/>
<rect x="490.19" y="286.71" width="16.79" height="16.74" fill="#ac6c6c"/>
<rect x="247.32" y="302.86" width="16.79" height="16.74" fill="#c8c4e8"/>
<rect x="263.51" y="302.86" width="16.79" height="16.74" fill="#c8c4e8"/>
<rect x="279.70" y="302.86" width="16.79" height="16.74" fill="#c8c4e8"/>
<rect x="295.89" y="302.86" width="16.79" height="16.74" fill="#d0cce8"/>
<rect x="312.08" y="302.86" width="16.79" height="16.74" fill="#c8c4e4"/>
<rect x="328.27" y="302.86" width="16.79" height="16.74" fill="#c0bcdc"/>
<rect x="344.47" y="302.86" width="16.79" height="16.74" fill="#b8b4d4"/>
<rect x="360.66" y="302.86" width="16.79" height="16.74" fill="#c0bcd8"/>
<rect x="376.85" y="302.86" width="16.79" height="16.74" fill="#c0bcd4"/>
<rect x="393.04" y="302.86" width="16.79" height="16.74" fill="#c8c4d8"/>
<rect x="409.23" y="302.86" width="16.79" height="16.74" fill="#d0c8d8"/>
<rect x="425.43" y="302.86" width="16.79" height="16.74" fill="#ccb4bc"/>
<rect x="441.62" y="302.86" width="16.79" height="16.74" fill="#b89090"/>
<rect x="457.81" y="302.86" width="16.79" height="16.74" fill="#b07878"/>
<rect x="474.00" y="302.86" width="16.79" height="16.74" fill="#b07878"/>
<rect x="490.19" y="302.86" width="16.79" height="16.74" fill="#b07878"/>
<rect x="247.32" y="319.00" width="16.79" height="16.74" fill="#c8c4e8"/>
<rect x="263.51" y="319.00" width="16.79" height="16.74" fill="#c8c4e8"/>
<rect x="279.70" y="319.00" width="16.79" height="16.74" fill="#c8c4e8"/>
<rect x="295.89" y="319.00" width="16.79" height="16.74" fill="#d0cce8"/>
<rect x="312.08" y="319.00" width="16.79" height="16.74" fill="#c8c4e4"/>
<rect x="328.27" y="319.00" width="16.79" height="16.74" fill="#c0bcdc"/>
<rect x="344.47" y="319.00" width="16.79" height="16.74" fill="#b8b4d4"/>
<rect x="360.66" y="319.00" width="16.79" height="16.74" fill="#c0bcd8"/>
<rect x="376.85" y="319.00" width="16.79" height="16.74" fill="#c0bcd4"/>
<rect x="393.04" y="319.00" width="16.79" height="16.74" fill="#c8c4d8"/>
<rect x="409.23" y="319.00" width="16.79" height="16.74" fill="#d0c8d8"/>
<rect x="425.43" y="319.00" width="16.79" height="16.74" fill="#ccb4bc"/>
<rect x="441.62" y="319.00" width="16.79" height="16.74" fill="#b89090"/>
<rect x="457.81" y="319.00" width="16.79" height="16.74" fill="#b07878"/>
<rect x="474.00" y="319.00" width="16.79" height="16.74" fill="#b07878"/>
<rect x="490.19" y="319.00" width="16.79" height="16.74" fill="#b07878"/>
<rect x="247.32" y="335.14" width="16.79" height="16.74" fill="#c8c4e8"/>
<rect x="263.51" y="335.14" width="16.79" height="16.74" fill="#c8c4e8"/>
<rect x="279.70" y="335.14" width="16.79" height="16.74" fill="#c8c4e8"/>
<rect x="295.89" y="335.14" width="16.79" height="16.74" fill="#d0cce8"/>
<rect x="312.08" y="335.14" width="16.79" height="16.74" fill="#c8c4e4"/>
<rect x="328.27" y="335.14" width="16.79" height="16.74" fill="#c0bcdc"/>
<rect x="344.47" y="335.14" width="16.79" height="16.74" fill="#b8b4d4"/>
<rect x="360.66" y="335.14" width="16.79" height="16.74" fill="#c0bcd8"/>
<rect x="376.85" y="335.14" width="16.79" height="16.74" fill="#c0bcd4"/>
<rect x="393.04" y="335.14" width="16.79" height="16.74" fill="#c8c4d8"/>
<rect x="409.23" y="335.14" width="16.79" height="16.74" fill="#d0c8d8"/>
<rect x="425.43" y="335.14" width="16.79" height="16.74" fill="#ccb4bc"/>
<rect x="441.62" y="335.14" width="16.79" height="16.74" fill="#b89090"/>
<rect x="457.81" y="335.14" width="16.79" height="16.74" fill="#b07878"/>
<rect x="474.00" y="335.14" width="16.79" height="16.74" fill="#b07878"/>
<rect x="490.19" y="335.14" width="16.79" height="16.74" fill="#b07878"/>
</g>
<!-- top-left highlight streak -->
<path d="M280 185 L297 180.5" stroke="#d0d0ee" stroke-width="1.5" filter="url(#b0)" opacity="0.85"/>
<circle cx="327" cy="183" r="1.8" fill="#c8c8ee" filter="url(#b1)"/>
<!-- gray crease band -->
<path d="M340 228 Q352 214 364 203 Q374 195 382 189 Q391 183 398 178" stroke="#767674" stroke-width="14" fill="none" filter="url(#b5)" opacity="0.6"/>
<path d="M341 226 Q351 214 363 203 Q373 195 381 189 Q390 183 397 178" stroke="#5a5c5a" stroke-width="5" fill="none" filter="url(#b2)" opacity="0.6"/>
<ellipse cx="368.4" cy="211.3" rx="5" ry="4" fill="#ecc8c8" filter="url(#b2)" opacity="0.7"/>
<ellipse cx="343" cy="222" rx="8" ry="6" fill="#d8d8ec" filter="url(#b3)" opacity="0.7"/>
<!-- pocket rim -->
<path d="M333 246 Q335 231 350 227 Q362 225 370 228" stroke="#8a8a8a" stroke-width="5" fill="none" filter="url(#b3)" opacity="0.7"/>
<path d="M392 236 Q404 256 398 284" stroke="#a09ca0" stroke-width="8" fill="none" filter="url(#b3)" opacity="0.75"/>
<ellipse cx="402" cy="256" rx="9" ry="17" fill="#a29ca2" filter="url(#b3)" opacity="0.85"/>
<path d="M392 234 Q410 220 430 208" stroke="#aa9e9e" stroke-width="8" fill="none" filter="url(#b3)" opacity="0.7"/>
<path d="M404 196 Q405 215 404 240" stroke="#9c9494" stroke-width="9" fill="none" filter="url(#b3)" opacity="0.6"/>
<ellipse cx="382" cy="193" rx="6" ry="11" fill="#6e6e6c" filter="url(#b3)" opacity="0.7"/>
<!-- pocket -->
<linearGradient id="pk" x1="0" y1="0" x2="1" y2="0.2"><stop offset="0" stop-color="#cc4c4c"/><stop offset="0.4" stop-color="#d46464"/><stop offset="0.7" stop-color="#e0a0a0"/><stop offset="1" stop-color="#e8c4c4"/></linearGradient>
<path d="M338.5 254 Q339 240 352 237 Q364 234 377 237 Q389 241 391 254 Q393 270 386 279 Q372 284 354 281 Q340 277 338.5 262 Z" fill="url(#pk)" filter="url(#b1)"/>
<ellipse cx="367.7" cy="240.5" rx="4" ry="2.5" fill="#f0c8c8" filter="url(#b1)"/>
<ellipse cx="366" cy="279" rx="5" ry="2" fill="#f0d0d0" filter="url(#b1)" opacity="0.8"/>
<!-- right dark red sphere -->
<radialGradient id="sph" cx="0.55" cy="0.5" r="0.5"><stop offset="0" stop-color="#b83a3a"/><stop offset="0.8" stop-color="#a83232"/><stop offset="1" stop-color="#923030"/></radialGradient>
<ellipse cx="482" cy="258" rx="24" ry="36" fill="url(#sph)" filter="url(#b1)"/>
<path d="M444 319 Q448 300 456 292 Q466 285 476 284" stroke="#8a6868" stroke-width="1.6" fill="none" filter="url(#b1)" opacity="0.6"/>
<path d="M462 319 Q463 305 467 298 Q471 295 476 295" stroke="#8a6868" stroke-width="1.4" fill="none" filter="url(#b1)" opacity="0.5"/>
<ellipse cx="471" cy="255.6" rx="2.5" ry="2.5" fill="#d02828" filter="url(#b1)"/>
<!-- gray shading lower right -->
<path d="M440 268 Q452 266 466 274" stroke="#908888" stroke-width="7" fill="none" filter="url(#b3)" opacity="0.6"/>
<!-- ribbons left -->
<path d="M280 200.5 Q296 205 308 210 Q316 214 320 220 Q326 225 333 229" stroke="#3c3c92" stroke-width="1.5" fill="none" opacity="0.55"/>
<path d="M280 212 Q290 216 298 215" stroke="#706a70" stroke-width="4" fill="none" filter="url(#b2)" opacity="0.35"/>
<g fill="none" stroke-linecap="round">
<path d="M324 174 Q319 186 318.5 198 Q316 206 316 214 Q317 222 315 230 Q313 236 313 240" stroke="#8e8ed0" stroke-width="2.6" opacity="0.55"/>
<path d="M320 180 Q330 186 332 194 Q330 200 328 204 Q326 210 326 214" stroke="#8e8ed0" stroke-width="2.6" opacity="0.55"/>
<path d="M320 216 Q328 213 336 214 Q342 215 347 217" stroke="#8e8ed0" stroke-width="2.6" opacity="0.55"/>
<path d="M316 226 Q330 222 338 228 Q342 232 348 238" stroke="#8e8ed0" stroke-width="2.6" opacity="0.55"/>
<path d="M282.6 254.5 Q296 258 306 257 Q314 254 313.8 250.6 Q314 242 312.5 235" stroke="#8e8ed0" stroke-width="2.6" opacity="0.55"/>
<path d="M295.6 235 Q296 246 298 251" stroke="#8e8ed0" stroke-width="2.6" opacity="0.55"/>
<path d="M280 281.8 Q288 287 295.6 287 Q304 286 308.6 281.8 Q312 277 314 272" stroke="#8e8ed0" stroke-width="2.6" opacity="0.55"/>
<path d="M324 174 Q319 186 318.5 198 Q316 206 316 214 Q317 222 315 230 Q313 236 313 240" stroke="#4a4a96" stroke-width="0.9" opacity="0.6"/>
<path d="M320 180 Q330 186 332 194 Q330 200 328 204 Q326 210 326 214" stroke="#4a4a96" stroke-width="0.9" opacity="0.6"/>
<path d="M320 216 Q328 213 336 214 Q342 215 347 217" stroke="#4a4a96" stroke-width="0.9" opacity="0.6"/>
<path d="M316 226 Q330 222 338 228 Q342 232 348 238" stroke="#4a4a96" stroke-width="0.9" opacity="0.6"/>
<path d="M282.6 254.5 Q296 258 306 257 Q314 254 313.8 250.6 Q314 242 312.5 235" stroke="#4a4a96" stroke-width="0.9" opacity="0.6"/>
<path d="M295.6 235 Q296 246 298 251" stroke="#4a4a96" stroke-width="0.9" opacity="0.6"/>
<path d="M280 281.8 Q288 287 295.6 287 Q304 286 308.6 281.8 Q312 277 314 272" stroke="#4a4a96" stroke-width="0.9" opacity="0.6"/>
</g>
<g fill="none" stroke="#a8a8e0" stroke-width="0.7" opacity="0.6">
<path d="M324.8 174 Q319.8 186 319.3 198 Q316.8 206 316.8 214"/>
<path d="M283 253.3 Q296 257 306 256"/>
</g>
<circle cx="290.4" cy="281.8" r="1.6" fill="#ececfa" filter="url(#b1)"/>
<circle cx="311.2" cy="283" r="1.4" fill="#f0f0ff" filter="url(#b1)"/>
<circle cx="307.3" cy="306.4" r="2" fill="#e8e8f8" filter="url(#b1)"/>
<circle cx="306" cy="300" r="5" fill="#dcdcf0" filter="url(#b3)" opacity="0.7"/>
<!-- gray ribbons right -->
<g fill="none" stroke="#b89090" stroke-width="1.2" opacity="0.5">
<path d="M395 176 Q405 185 420 190 Q440 196 460 182"/>
<path d="M395 230 Q415 228 430 240 Q440 250 450 245"/>
<path d="M445 290 Q455 280 470 285"/>
</g>
<!-- Asp102 / His57 sticks -->
<g fill="none" stroke="#b08e90" stroke-width="3.3" stroke-linecap="round" stroke-linejoin="round" opacity="0.7">
<path d="M461 176 L457.9 188.2 L456.3 199 L444.9 204.3 L444.1 215 L436.5 219.6"/>
<path d="M444.1 215 L453.3 220.3"/>
<path d="M436.5 241.9 L444.1 245 L438.8 253.3 L431.3 256.4 L429.8 250 Z"/>
<path d="M444.1 245 L454.8 232.7 L467 236.5"/>
</g>
<path d="M436.5 219.6 L440 217.6" stroke="#e07878" stroke-width="3.2" stroke-linecap="round"/>
<path d="M453.3 220.3 L449.3 218" stroke="#e07070" stroke-width="3.2" stroke-linecap="round"/>
<path d="M455.7 189 L455 194" stroke="#9060a8" stroke-width="3.2" stroke-linecap="round"/>
<path d="M435 242 L438 243" stroke="#a080c0" stroke-width="3.2" stroke-linecap="round"/>
<path d="M430 252 L431.3 256" stroke="#a080c0" stroke-width="3.2" stroke-linecap="round"/>
<!-- blue sticks Asp189/Ser190 -->
<g fill="none" stroke="#74a6d6" stroke-width="2.9" stroke-linecap="round" stroke-linejoin="round" opacity="0.75">
<path d="M318 259.8 L325.6 263 L316 275 L318.8 281.8 L310.5 284.6"/>
<path d="M316 275 L325.6 280.4 L338.7 280.4 L346.3 284.6 L352 285.3 L356 282"/>
<path d="M330.4 280.4 L330.4 294"/>
<path d="M356 282 L358 272"/>
</g>
<path d="M318 259.8 L321 261.2" stroke="#b890c8" stroke-width="2.9" stroke-linecap="round" opacity="0.85"/>
<path d="M330.4 291 L330.4 294.5" stroke="#d090b0" stroke-width="2.9" stroke-linecap="round" opacity="0.85"/>
<!-- Ser195 sticks -->
<g fill="none" stroke="#74aad6" stroke-width="2.9" stroke-linecap="round" stroke-linejoin="round" opacity="0.75">
<path d="M410 273 L418 276 L426 277 L433 273 L438 272"/>
<path d="M426 277 L427 289"/>
<path d="M417 276 L412 285 L405 289"/>
</g>
<path d="M399 287 Q396 295 397 305" stroke="#c0c8e8" stroke-width="2.4" fill="none" opacity="0.6"/>
<path d="M410 273 L413 274.5" stroke="#d07890" stroke-width="2.9" stroke-linecap="round" opacity="0.8"/>
<path d="M427 286 L427.3 290" stroke="#e08080" stroke-width="2.9" stroke-linecap="round" opacity="0.85"/>
<!-- ligand -->
<g fill="none" stroke-linecap="round" stroke-linejoin="round">
<path d="M350.2 255.2 L360.3 253.6 L375.3 256.5 L377.5 261 L360.3 265 L353.9 262.1 Z M377.5 261 L385 269" stroke="#3f8a25" stroke-width="4.2"/>
<path d="M350.2 255.2 L360.3 253.6 L375.3 256.5 L377.5 261 L360.3 265 L353.9 262.1 Z M377.5 261 L385 269" stroke="#7acc4a" stroke-width="3.1"/>
<path d="M342.6 255.2 L350 255.2" stroke="#26308a" stroke-width="4.2"/>
<path d="M342.6 255.2 L350 255.2" stroke="#3848c0" stroke-width="3.1"/>
<path d="M385 269 L390 275.6" stroke="#a83030" stroke-width="4.2"/>
<path d="M385 269 L390 275.6" stroke="#e06858" stroke-width="3.1"/>
<circle cx="380.7" cy="260" r="2.3" fill="#c84848" stroke="#903030" stroke-width="0.6"/>
</g>
<!-- yellow dots -->
<g fill="#e8d848">
<circle cx="340.6" cy="257" r="0.9"/><circle cx="343" cy="260.6" r="0.9"/><circle cx="342.5" cy="265.6" r="0.9"/><circle cx="337" cy="256" r="0.7"/><circle cx="333" cy="256.5" r="0.7"/>
<circle cx="392" cy="273.5" r="0.8"/><circle cx="395" cy="273" r="0.8"/><circle cx="398" cy="272.5" r="0.8"/><circle cx="401" cy="272" r="0.8"/>
</g>
<!-- labels -->
<g style="font-family:&quot;Liberation Serif&quot;,serif;font-weight:bold" font-size="9.7" fill="#111">
<text x="406.9" y="209.5" textLength="30.1" lengthAdjust="spacingAndGlyphs">Asp102</text>
<text x="405.8" y="240.9" textLength="23.2" lengthAdjust="spacingAndGlyphs">His57</text>
<text x="285.3" y="267.1" textLength="30.8" lengthAdjust="spacingAndGlyphs">Asp189</text>
<text x="335.1" y="305.7" textLength="29.5" lengthAdjust="spacingAndGlyphs">Ser190</text>
<text x="407.3" y="305.7" textLength="29.3" lengthAdjust="spacingAndGlyphs">Ser195</text>
</g>

</g>
<rect x="0" y="0" width="520" height="1" fill="#111"/>
<rect x="0" y="1" width="520" height="0.6" fill="#999"/>
<rect x="0" y="0" width="1.6" height="327" fill="#4a4a4a"/>
<rect x="518.7" y="0" width="1.3" height="327" fill="#111"/>
<rect x="0" y="325.3" width="520" height="1.7" fill="#454545"/>
</svg>
</body></html>
